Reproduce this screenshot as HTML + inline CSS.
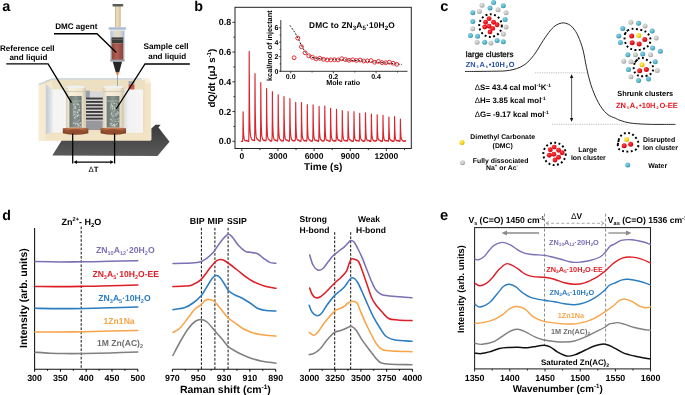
<!DOCTYPE html>
<html><head><meta charset="utf-8"><title>Figure</title>
<style>html,body{margin:0;padding:0;background:#fff;overflow:hidden}svg{display:block;will-change:transform}text{font-family:"Liberation Sans",sans-serif;font-weight:bold;text-rendering:geometricPrecision}</style>
</head><body>
<svg width="685" height="395" viewBox="0 0 685 395">
<rect width="685" height="395" fill="#fff"/>
<defs>
<linearGradient id="shd" x1="0" y1="0" x2="0" y2="1"><stop offset="0" stop-color="#3a3a3a"/><stop offset="1" stop-color="#5a5a5a"/></linearGradient>
<linearGradient id="cop" x1="0" y1="0" x2="0" y2="1"><stop offset="0" stop-color="#cf8a62"/><stop offset="0.35" stop-color="#b9683e"/><stop offset="1" stop-color="#8e4626"/></linearGradient>
<linearGradient id="copx" x1="0" y1="0" x2="1" y2="0"><stop offset="0" stop-color="#000" stop-opacity="0.25"/><stop offset="0.3" stop-color="#000" stop-opacity="0"/><stop offset="0.7" stop-color="#000" stop-opacity="0"/><stop offset="1" stop-color="#000" stop-opacity="0.25"/></linearGradient>
<linearGradient id="cell" x1="0" y1="0" x2="1" y2="0"><stop offset="0" stop-color="#d9cfb8"/><stop offset="0.2" stop-color="#f6efdc"/><stop offset="0.8" stop-color="#efe6d0"/><stop offset="1" stop-color="#cfc3a8"/></linearGradient>
<linearGradient id="glass" x1="0" y1="0" x2="1" y2="0"><stop offset="0" stop-color="#6c7872"/><stop offset="0.5" stop-color="#8a9791"/><stop offset="1" stop-color="#68736e"/></linearGradient>
<linearGradient id="ins" x1="0" y1="0" x2="1" y2="0"><stop offset="0" stop-color="#d9dee5"/><stop offset="0.2" stop-color="#f3f3f3"/><stop offset="1" stop-color="#f7f7f7"/></linearGradient>
<linearGradient id="rod" x1="0" y1="0" x2="1" y2="0"><stop offset="0" stop-color="#cdb88c"/><stop offset="0.4" stop-color="#efe0bc"/><stop offset="1" stop-color="#d2bd92"/></linearGradient>
<linearGradient id="liq" x1="0" y1="0" x2="1" y2="0"><stop offset="0" stop-color="#8c4840"/><stop offset="0.45" stop-color="#b45e52"/><stop offset="1" stop-color="#88443c"/></linearGradient>
<linearGradient id="barrel" x1="0" y1="0" x2="1" y2="0"><stop offset="0" stop-color="#b9c4d0"/><stop offset="0.5" stop-color="#e6ebf0"/><stop offset="1" stop-color="#aeb9c6"/></linearGradient>
<linearGradient id="sidef" x1="0" y1="0" x2="1" y2="0"><stop offset="0" stop-color="#c2cad4"/><stop offset="1" stop-color="#e9ebee"/></linearGradient>
<pattern id="spk" width="3" height="3" patternUnits="userSpaceOnUse"><circle cx="0.8" cy="0.9" r="0.3" fill="#d6d6d6"/><circle cx="2.2" cy="2.3" r="0.25" fill="#dedede"/></pattern>
<pattern id="gspk" width="3" height="3.4" patternUnits="userSpaceOnUse"><circle cx="0.9" cy="1" r="0.6" fill="#c9d1cc"/><circle cx="2.3" cy="2.6" r="0.55" fill="#b9c2bd"/></pattern>
</defs>
<path d="M52.3,155.4 L62,140 L151.4,140 L151.4,128.4 L155.5,124.7 L160.6,124.7 L158.5,127.4 L169.5,141.7 L157.5,156 Z" fill="url(#shd)"/>
<path d="M38.8,84.2 L52.5,78.6 L148.6,78.6 L150.8,83.6 L150.8,140.7 L38.8,140.7 Z" fill="#f2e4c4"/>
<path d="M141.5,78.6 L148.6,78.6 L150.8,83.6 L143.2,83.6 Z" fill="#f8efdc"/>
<rect x="38.8" y="84.2" width="6.8" height="56.5" fill="#f6ebd2"/>
<rect x="45.6" y="80.2" width="99.5" height="53.8" fill="#ecdfc2"/>
<path d="M45.6,84 L52.5,80.2 L52.5,90 L45.6,92 Z" fill="#f3e8d0"/>
<path d="M38.8,84.4 L52.5,78.9 L141.6,78.9" stroke="#c2d4e4" stroke-width="1.2" fill="none"/>
<rect x="45.8" y="131.5" width="99.3" height="2.6" fill="#efe2c5"/>
<path d="M46,84.5 L52.6,89.4 L52.6,132.7 L46,134 Z" fill="url(#sidef)"/>
<rect x="52.6" y="89.4" width="13.2" height="43.3" fill="#f6f6f6"/><rect x="52.6" y="89.4" width="13.2" height="43.3" fill="url(#spk)"/>
<rect x="124.6" y="89.4" width="18.3" height="43.3" fill="url(#ins)"/><rect x="124.6" y="89.4" width="18.3" height="43.3" fill="url(#spk)"/>
<rect x="128.6" y="81.2" width="5.8" height="3.2" fill="#9aa6b4"/><rect x="128.6" y="84.4" width="5.8" height="5" fill="#c8584a"/>
<rect x="85.5" y="91.5" width="17.5" height="37" fill="#d8d8d8"/>
<rect x="86" y="120.6" width="16.6" height="9.4" fill="#97979c"/>
<rect x="85.4" y="90.6" width="4.4" height="7.4" fill="#95a0ad"/>
<g fill="#3a3a3a"><rect x="86" y="97.6" width="16.8" height="1.9"/><rect x="86" y="100.95" width="16.8" height="1.9"/><rect x="86" y="104.3" width="16.8" height="1.9"/><rect x="86" y="107.65" width="16.8" height="1.9"/><rect x="86" y="111" width="16.8" height="1.9"/><rect x="86" y="114.35" width="16.8" height="1.9"/><rect x="86" y="117.7" width="16.8" height="1.9"/></g>
<rect x="66" y="90" width="19.5" height="38" fill="url(#cell)"/>
<rect x="65.6" y="86.8" width="20.3" height="4.6" fill="url(#cell)"/>
<ellipse cx="75.75" cy="86.9" rx="10.15" ry="1.4" fill="#eef1f2"/>
<rect x="65.6" y="91.2" width="20.3" height="0.7" fill="#cbbfa4"/>
<rect x="69.4" y="96" width="12.2" height="31.6" fill="url(#glass)"/>
<rect x="69.4" y="100.6" width="12.2" height="0.9" fill="#aab4ae"/>
<g fill="#dfe3dc" opacity="0.85"><circle cx="75.46" cy="106.54" r="0.58"/><circle cx="73.47" cy="115.59" r="0.48"/><circle cx="73.36" cy="114.92" r="0.36"/><circle cx="76.33" cy="104.64" r="0.38"/><circle cx="76.25" cy="122.43" r="0.39"/><circle cx="74.66" cy="117.74" r="0.68"/><circle cx="77.46" cy="112.32" r="0.69"/><circle cx="73.27" cy="123.17" r="0.45"/><circle cx="74.04" cy="105.77" r="0.46"/><circle cx="79.35" cy="107.25" r="0.55"/><circle cx="77.95" cy="111.75" r="0.54"/><circle cx="73.4" cy="104.4" r="0.42"/><circle cx="78.28" cy="113.05" r="0.46"/><circle cx="77.53" cy="113.65" r="0.45"/><circle cx="79.18" cy="119.43" r="0.44"/><circle cx="77.44" cy="115.34" r="0.66"/><circle cx="78.66" cy="109.77" r="0.69"/><circle cx="73.83" cy="112.83" r="0.61"/><circle cx="74.1" cy="114.49" r="0.36"/><circle cx="78.18" cy="120.97" r="0.55"/><circle cx="79.82" cy="110.37" r="0.59"/><circle cx="77.6" cy="116.63" r="0.51"/><circle cx="79.54" cy="125.2" r="0.52"/><circle cx="78.15" cy="104.43" r="0.6"/><circle cx="78.01" cy="126.34" r="0.64"/><circle cx="75.15" cy="112.07" r="0.58"/><circle cx="73.08" cy="113.85" r="0.41"/><circle cx="73.83" cy="104.39" r="0.62"/><circle cx="73.92" cy="108.82" r="0.49"/><circle cx="79.78" cy="104.89" r="0.51"/><circle cx="77.24" cy="123.76" r="0.64"/><circle cx="79.73" cy="109.54" r="0.5"/><circle cx="75.73" cy="123.78" r="0.69"/><circle cx="74.09" cy="107.14" r="0.43"/><circle cx="74.74" cy="114.4" r="0.56"/><circle cx="74.98" cy="103.1" r="0.5"/><circle cx="75.82" cy="116.31" r="0.68"/><circle cx="78.35" cy="115.11" r="0.57"/><circle cx="78.24" cy="104.27" r="0.66"/><circle cx="79.06" cy="123.55" r="0.63"/><circle cx="76" cy="112.38" r="0.39"/><circle cx="77.91" cy="104.46" r="0.37"/><circle cx="74.55" cy="106.81" r="0.47"/><circle cx="73.32" cy="103.01" r="0.4"/><circle cx="73.7" cy="111.54" r="0.36"/><circle cx="79.81" cy="117.43" r="0.4"/><circle cx="74.89" cy="111.16" r="0.48"/><circle cx="73.87" cy="122.95" r="0.7"/><circle cx="76.58" cy="114.37" r="0.38"/><circle cx="73.71" cy="111.05" r="0.44"/><circle cx="79.45" cy="106.79" r="0.36"/><circle cx="80.41" cy="115.41" r="0.4"/><circle cx="77.19" cy="103.64" r="0.53"/><circle cx="80.63" cy="123.29" r="0.59"/><circle cx="74.96" cy="111.62" r="0.41"/><circle cx="79" cy="115.52" r="0.62"/><circle cx="75.5" cy="108.24" r="0.63"/><circle cx="80.68" cy="123.04" r="0.63"/><circle cx="79.36" cy="120.39" r="0.43"/><circle cx="76.99" cy="111.36" r="0.36"/><circle cx="73.12" cy="109.57" r="0.44"/><circle cx="78.37" cy="125.48" r="0.51"/><circle cx="80.3" cy="126.22" r="0.68"/><circle cx="75.78" cy="108.18" r="0.43"/><circle cx="74.45" cy="107.8" r="0.57"/><circle cx="80.01" cy="122.75" r="0.52"/><circle cx="78.06" cy="121.79" r="0.38"/><circle cx="78.12" cy="124.38" r="0.62"/><circle cx="78.83" cy="114.23" r="0.41"/><circle cx="79.13" cy="110.81" r="0.63"/></g>
<rect x="103" y="90" width="20.6" height="38" fill="url(#cell)"/>
<rect x="102.6" y="86.8" width="21.4" height="4.6" fill="url(#cell)"/>
<ellipse cx="113.3" cy="86.9" rx="10.7" ry="1.4" fill="#eef1f2"/>
<rect x="102.6" y="91.2" width="21.4" height="0.7" fill="#cbbfa4"/>
<rect x="106.6" y="96" width="12.8" height="31.6" fill="url(#glass)"/>
<rect x="106.6" y="100.6" width="12.8" height="0.9" fill="#aab4ae"/>
<g fill="#dfe3dc" opacity="0.85"><circle cx="118.36" cy="112.3" r="0.49"/><circle cx="118.15" cy="120.03" r="0.41"/><circle cx="111.18" cy="106.55" r="0.67"/><circle cx="116.96" cy="106.44" r="0.64"/><circle cx="118.43" cy="118.45" r="0.47"/><circle cx="114.76" cy="106.08" r="0.35"/><circle cx="118.35" cy="118.27" r="0.53"/><circle cx="118.04" cy="113.19" r="0.66"/><circle cx="117.12" cy="107.96" r="0.44"/><circle cx="112.59" cy="108.65" r="0.56"/><circle cx="112.3" cy="112.85" r="0.4"/><circle cx="117.84" cy="111.31" r="0.51"/><circle cx="115.06" cy="124.25" r="0.5"/><circle cx="117.9" cy="114.79" r="0.54"/><circle cx="114.55" cy="103.44" r="0.5"/><circle cx="111.66" cy="103.09" r="0.63"/><circle cx="111.56" cy="114.13" r="0.6"/><circle cx="114.83" cy="110.66" r="0.53"/><circle cx="114.82" cy="121.43" r="0.39"/><circle cx="114.86" cy="108.84" r="0.45"/><circle cx="116.66" cy="114.93" r="0.55"/><circle cx="116.56" cy="124.44" r="0.51"/><circle cx="115.31" cy="114.88" r="0.53"/><circle cx="115.99" cy="113.63" r="0.54"/><circle cx="114.16" cy="125.13" r="0.59"/><circle cx="117.55" cy="125.14" r="0.44"/><circle cx="114.86" cy="125.17" r="0.64"/><circle cx="111.27" cy="105.86" r="0.5"/><circle cx="110.72" cy="108.66" r="0.38"/><circle cx="115.79" cy="121.42" r="0.66"/><circle cx="111.41" cy="119.83" r="0.58"/><circle cx="111.32" cy="123.75" r="0.69"/><circle cx="111.97" cy="125.38" r="0.49"/><circle cx="114.24" cy="126.26" r="0.64"/><circle cx="111.47" cy="113.14" r="0.53"/><circle cx="112.98" cy="107.6" r="0.46"/><circle cx="116.24" cy="103.46" r="0.54"/><circle cx="113.84" cy="103.42" r="0.47"/><circle cx="115.4" cy="115.04" r="0.37"/><circle cx="118.47" cy="121.53" r="0.69"/><circle cx="110.99" cy="109.24" r="0.36"/><circle cx="116.72" cy="109.36" r="0.4"/><circle cx="113.69" cy="124.42" r="0.64"/><circle cx="112.3" cy="106.51" r="0.67"/><circle cx="114.95" cy="119.46" r="0.38"/><circle cx="110.59" cy="119.17" r="0.5"/><circle cx="110.72" cy="125.05" r="0.57"/><circle cx="116.91" cy="104.97" r="0.65"/><circle cx="110.67" cy="123.28" r="0.51"/><circle cx="112.98" cy="116" r="0.67"/><circle cx="112.38" cy="106.04" r="0.53"/><circle cx="112.13" cy="105.57" r="0.41"/><circle cx="110.53" cy="107.74" r="0.46"/><circle cx="112.69" cy="120.85" r="0.45"/><circle cx="114.35" cy="107.18" r="0.47"/><circle cx="110.25" cy="108.89" r="0.36"/><circle cx="116.33" cy="115.95" r="0.42"/><circle cx="114.14" cy="124.96" r="0.39"/><circle cx="117.06" cy="113.16" r="0.52"/><circle cx="117.19" cy="112.24" r="0.53"/><circle cx="115.95" cy="126.09" r="0.47"/><circle cx="117.17" cy="119.61" r="0.57"/><circle cx="113.54" cy="111.17" r="0.37"/><circle cx="111.2" cy="104.66" r="0.61"/><circle cx="112.27" cy="106.84" r="0.38"/><circle cx="117.25" cy="123.46" r="0.58"/><circle cx="112.5" cy="108.69" r="0.45"/><circle cx="114.01" cy="106.7" r="0.51"/><circle cx="112.34" cy="125.6" r="0.69"/><circle cx="114.75" cy="108.74" r="0.69"/></g>
<path d="M62.8,128.2 Q75.55,126.6 88.3,128.2 L88.3,133.2 Q75.55,136.4 62.8,133.2 Z" fill="url(#cop)"/>
<path d="M62.8,128.2 Q75.55,126.6 88.3,128.2 L88.3,133.2 Q75.55,136.4 62.8,133.2 Z" fill="url(#copx)"/>
<ellipse cx="75.55" cy="131.6" rx="8.25" ry="2.6" fill="#8a4a2e" opacity="0.75"/>
<path d="M100.6,128.2 Q113.3,126.6 126.0,128.2 L126.0,133.2 Q113.3,136.4 100.6,133.2 Z" fill="url(#cop)"/>
<path d="M100.6,128.2 Q113.3,126.6 126.0,128.2 L126.0,133.2 Q113.3,136.4 100.6,133.2 Z" fill="url(#copx)"/>
<ellipse cx="113.3" cy="131.6" rx="8.2" ry="2.6" fill="#8a4a2e" opacity="0.75"/>
<rect x="115" y="6.2" width="5.8" height="21" fill="url(#rod)"/>
<rect x="112.5" y="3.9" width="10.8" height="2.6" rx="0.8" fill="#5a5a5a"/>
<rect x="110.3" y="30.5" width="14.2" height="30.5" fill="url(#barrel)"/>
<rect x="115.3" y="30.5" width="5.2" height="7" fill="#e6d6b0" opacity="0.8"/>
<rect x="111.6" y="37.4" width="11.6" height="5.8" fill="#3c3c3c"/>
<rect x="111.6" y="38.9" width="11.6" height="0.9" fill="#6a6a6a"/>
<rect x="111.6" y="43.2" width="11.6" height="16.8" fill="url(#liq)"/>
<rect x="108.6" y="27.2" width="17.5" height="2.6" rx="0.8" fill="#a9bcd4"/>
<rect x="110.3" y="59.6" width="14.2" height="2" fill="#9aa4b0"/>
<path d="M112.8,61.8 L122,61.8 L119.2,72.5 L115.8,72.5 Z" fill="#262626"/>
<path d="M116,72.3 L119,72.3 L118.2,75 L116.8,75 Z" fill="#e07a35"/>
<path d="M117.5,75 V86" stroke="#8a8f96" stroke-width="0.7"/>
<path d="M54,33.7 H97 L116.3,52.5 M6.3,63.8 H48.1 L71.5,102.6 M189.8,64 H145 L116.2,109" stroke="#000" stroke-width="1.35" fill="none"/>
<text x="2.2" y="10.9" font-size="14.5">a</text>
<text x="55.2" y="28.8" font-size="8.1">DMC agent</text>
<text x="0" y="50.5" font-size="8.05">Reference cell</text>
<text x="9.4" y="59.9" font-size="8.05">and liquid</text>
<text x="143.5" y="49.2" font-size="8.2">Sample cell</text>
<text x="148.2" y="58.8" font-size="8.05">and liquid</text>
<path d="M72.7,133.5 V163.5 M114.6,133.5 V163.5" stroke="#000" stroke-width="1.25" fill="none"/>
<path d="M75.5,162.1 H111.8" stroke="#000" stroke-width="1.1" fill="none"/><path d="M73.4,162.1 L77,160.2 L77,164 Z M113.9,162.1 L110.3,160.2 L110.3,164 Z" fill="#000"/>
<text x="93.5" y="172.1" font-size="7.8" text-anchor="middle"><tspan style="font-weight:normal">Δ</tspan>T</text>
<text x="194.2" y="10.9" font-size="14.3">b</text>
<rect x="235.0" y="7.3" width="176.3" height="141.2" fill="none" stroke="#222" stroke-width="1"/>
<path d="M235,141.3h-2.6 M235,126.43h-1.6 M235,111.55h-2.6 M235,96.68h-1.6 M235,81.8h-2.6 M235,66.93h-1.6 M235,52.05h-2.6 M235,37.17h-1.6 M235,22.3h-2.6 M241.8,148.5v2.6 M259.88,148.5v1.6 M277.95,148.5v2.6 M296.03,148.5v1.6 M314.1,148.5v2.6 M332.18,148.5v1.6 M350.25,148.5v2.6 M368.33,148.5v1.6 M386.4,148.5v2.6 M404.48,148.5v1.6" stroke="#222" stroke-width="0.9" fill="none"/>
<text x="231.2" y="144.4" font-size="8.9" text-anchor="end">0.0</text>
<text x="231.2" y="114.65" font-size="8.9" text-anchor="end">0.2</text>
<text x="231.2" y="84.9" font-size="8.9" text-anchor="end">0.4</text>
<text x="231.2" y="55.15" font-size="8.9" text-anchor="end">0.6</text>
<text x="231.2" y="25.4" font-size="8.9" text-anchor="end">0.8</text>
<text x="241.8" y="159" font-size="8.5" text-anchor="middle">0</text>
<text x="277.95" y="159" font-size="8.5" text-anchor="middle">3000</text>
<text x="314.1" y="159" font-size="8.5" text-anchor="middle">6000</text>
<text x="350.25" y="159" font-size="8.5" text-anchor="middle">9000</text>
<text x="386.4" y="159" font-size="8.5" text-anchor="middle">12000</text>
<text x="323.2" y="170" font-size="10.0" text-anchor="middle">Time (s)</text>
<text transform="translate(214.8,78.2) rotate(-90)" font-size="9.6" text-anchor="middle">dQ/dt (μJ s<tspan font-size="5.95" baseline-shift="3.84">-1</tspan>)</text>
<path d="M241.3,141.41 L241.4,141.55 L241.5,141.45 L241.6,141.54 L241.7,141.52 L241.8,141.2 L241.9,141.13 L242,141.51 L242.1,141.17 L242.2,141.12 L242.3,141.46 L242.4,141.16 L242.5,141.31 L242.6,141.1 L242.7,140.11 L242.8,138.49 L242.9,135.59 L243,128.5 L243.1,111.76 L243.2,119.12 L243.3,124.43 L243.4,128.08 L243.5,131.36 L243.6,133.46 L243.7,134.96 L243.8,136.06 L243.9,137.42 L244,137.95 L244.1,138.64 L244.2,139.16 L244.3,139.43 L244.4,139.81 L244.5,139.77 L244.6,140.16 L244.7,140.13 L244.8,140.5 L244.9,140.57 L245,140.25 L245.1,140.33 L245.2,140.42 L245.3,140.83 L245.4,140.58 L245.5,140.69 L245.6,140.54 L245.7,140.64 L245.8,140.58 L245.9,140.55 L246,140.66 L246.1,140.66 L246.2,140.81 L246.3,140.7 L246.4,140.83 L246.5,140.8 L246.6,140.88 L246.7,140.74 L246.8,140.51 L246.9,140.89 L247,140.98 L247.1,140.99 L247.2,140.87 L247.3,140.99 L247.4,140.79 L247.5,141.16 L247.6,141.08 L247.7,140.99 L247.8,140.94 L247.9,141.38 L248,141.5 L248.1,141.09 L248.2,141.48 L248.3,141.32 L248.4,141.21 L248.5,141.3 L248.6,141.55 L248.7,141.6 L248.8,137.97 L248.9,134.06 L249,124.15 L249.1,102.34 L249.2,51.23 L249.3,73.7 L249.4,90.08 L249.5,101.87 L249.6,111.01 L249.7,117.24 L249.8,122.02 L249.9,125.93 L250,128.39 L250.1,130.55 L250.2,132.24 L250.3,133.57 L250.4,134.3 L250.5,135.01 L250.6,136.05 L250.7,136.29 L250.8,137.05 L250.9,137.39 L251,137.47 L251.1,137.81 L251.2,138.1 L251.3,138.41 L251.4,138.61 L251.5,138.81 L251.6,139.03 L251.7,139.37 L251.8,139.31 L251.9,139.42 L252,139.7 L252.1,139.58 L252.2,139.72 L252.3,140.16 L252.4,140.01 L252.5,140.09 L252.6,139.89 L252.7,140.14 L252.8,140.26 L252.9,140.01 L253,140.33 L253.1,140.36 L253.2,140.08 L253.3,140.38 L253.4,140.31 L253.5,140.42 L253.6,140.27 L253.7,140.46 L253.8,140.49 L253.9,140.16 L254,140.2 L254.1,140.54 L254.2,140.72 L254.3,140.4 L254.4,140.55 L254.5,140.67 L254.6,138.19 L254.7,135.15 L254.8,128 L254.9,111.55 L255,73.68 L255.1,90.21 L255.2,102.54 L255.3,111.83 L255.4,118.18 L255.5,123.45 L255.6,127.25 L255.7,129.83 L255.8,131.88 L255.9,133.76 L256,134.69 L256.1,135.59 L256.2,136.43 L256.3,137.12 L256.4,137.26 L256.5,137.72 L256.6,138 L256.7,138.48 L256.8,138.47 L256.9,138.84 L257,138.63 L257.1,138.83 L257.2,139.09 L257.3,139.3 L257.4,139.18 L257.5,139.15 L257.6,139.18 L257.7,139.47 L257.8,139.39 L257.9,139.78 L258,139.89 L258.1,139.65 L258.2,139.79 L258.3,140.15 L258.4,140.17 L258.5,140.35 L258.6,140.21 L258.7,140.2 L258.8,140.37 L258.9,140.71 L259,140.53 L259.1,140.65 L259.2,140.75 L259.3,140.82 L259.4,140.87 L259.5,141.17 L259.6,140.83 L259.7,140.78 L259.8,141.27 L259.9,141.25 L260,141.31 L260.1,141.03 L260.2,141.28 L260.3,140.34 L260.4,138.79 L260.5,136.32 L260.6,130.11 L260.7,115.65 L260.8,82.53 L260.9,96.81 L261,107.44 L261.1,115.2 L261.2,120.9 L261.3,125.45 L261.4,128.5 L261.5,131.16 L261.6,132.59 L261.7,134.4 L261.8,135.36 L261.9,136.31 L262,136.96 L262.1,137.49 L262.2,137.77 L262.3,137.86 L262.4,138.54 L262.5,138.53 L262.6,138.84 L262.7,139.23 L262.8,139.35 L262.9,139.46 L263,139.87 L263.1,139.84 L263.2,139.82 L263.3,139.88 L263.4,140.27 L263.5,140.15 L263.6,140.37 L263.7,140.2 L263.8,140.16 L263.9,140.36 L264,140.53 L264.1,140.22 L264.2,140.55 L264.3,140.62 L264.4,140.57 L264.5,140.58 L264.6,140.18 L264.7,140.49 L264.8,140.62 L264.9,140.23 L265,140.35 L265.1,140.38 L265.2,140.53 L265.3,140.51 L265.4,140.58 L265.5,140.77 L265.6,140.43 L265.7,140.51 L265.8,140.61 L265.9,140.66 L266,140.7 L266.1,140.39 L266.2,139.33 L266.3,136.57 L266.4,131.21 L266.5,118.24 L266.6,88.55 L266.7,101.59 L266.8,111.34 L266.9,118.39 L267,123.51 L267.1,127.3 L267.2,130.25 L267.3,132.29 L267.4,134.12 L267.5,135.4 L267.6,136.15 L267.7,136.69 L267.8,137.27 L267.9,137.77 L268,138.21 L268.1,138.55 L268.2,138.56 L268.3,138.94 L268.4,139 L268.5,139.03 L268.6,139.11 L268.7,139.28 L268.8,139.48 L268.9,139.44 L269,139.67 L269.1,139.66 L269.2,139.65 L269.3,139.89 L269.4,140.07 L269.5,139.86 L269.6,140.13 L269.7,140.23 L269.8,140.55 L269.9,140.68 L270,140.48 L270.1,140.83 L270.2,140.85 L270.3,140.66 L270.4,140.83 L270.5,140.71 L270.6,141.1 L270.7,141.07 L270.8,141.21 L270.9,141.18 L271,141.13 L271.1,141.17 L271.2,141.08 L271.3,140.84 L271.4,141.07 L271.5,140.76 L271.6,140.8 L271.7,141.09 L271.8,140.71 L271.9,139.94 L272,138.92 L272.1,137 L272.2,131.35 L272.3,119.09 L272.4,91.51 L272.5,103.38 L272.6,112.75 L272.7,119.32 L272.8,124.33 L272.9,128.06 L273,130.61 L273.1,132.79 L273.2,133.97 L273.3,135.54 L273.4,136.34 L273.5,137.17 L273.6,137.44 L273.7,138.23 L273.8,138.7 L273.9,138.58 L274,138.97 L274.1,139.31 L274.2,139.63 L274.3,139.5 L274.4,139.6 L274.5,139.75 L274.6,140.03 L274.7,140.18 L274.8,140.06 L274.9,140.1 L275,140.16 L275.1,140.17 L275.2,140.22 L275.3,140.08 L275.4,140.3 L275.5,140.55 L275.6,140.28 L275.7,140.46 L275.8,140.17 L275.9,140.45 L276,140.5 L276.1,140.49 L276.2,140.43 L276.3,140.45 L276.4,140.57 L276.5,140.74 L276.6,140.41 L276.7,140.44 L276.8,140.82 L276.9,140.96 L277,140.82 L277.1,140.85 L277.2,141.05 L277.3,140.85 L277.4,140.95 L277.5,140.97 L277.6,141.21 L277.7,140.4 L277.8,139.46 L277.9,137.57 L278,132.76 L278.1,121.02 L278.2,94.94 L278.3,106.28 L278.4,114.95 L278.5,121.04 L278.6,125.48 L278.7,128.85 L278.8,131.27 L278.9,133.36 L279,134.71 L279.1,135.66 L279.2,136.54 L279.3,137.13 L279.4,137.82 L279.5,137.87 L279.6,138.59 L279.7,138.57 L279.8,138.83 L279.9,138.94 L280,139.28 L280.1,139.42 L280.2,139.42 L280.3,139.51 L280.4,139.75 L280.5,139.94 L280.6,139.83 L280.7,140.11 L280.8,140.33 L280.9,140.19 L281,140.18 L281.1,140.28 L281.2,140.61 L281.3,140.68 L281.4,140.9 L281.5,140.91 L281.6,140.67 L281.7,140.69 L281.8,140.77 L281.9,140.77 L282,141.05 L282.1,141.14 L282.2,141.17 L282.3,140.85 L282.4,141.15 L282.5,140.86 L282.6,140.9 L282.7,141.03 L282.8,140.69 L282.9,140.67 L283,141.02 L283.1,140.73 L283.2,140.75 L283.3,140.85 L283.4,140.89 L283.5,139.87 L283.6,139.15 L283.7,137.15 L283.8,132.47 L283.9,121.47 L284,96.64 L284.1,107.8 L284.2,115.61 L284.3,121.68 L284.4,125.9 L284.5,129.29 L284.6,131.96 L284.7,133.54 L284.8,135.34 L284.9,136.43 L285,136.85 L285.1,137.92 L285.2,138.14 L285.3,138.74 L285.4,139.05 L285.5,139.07 L285.6,139.47 L285.7,139.62 L285.8,139.83 L285.9,139.67 L286,140 L286.1,140.17 L286.2,140.08 L286.3,140.06 L286.4,139.88 L286.5,140.1 L286.6,140.06 L286.7,140.26 L286.8,140.26 L286.9,140.23 L287,140.06 L287.1,140.32 L287.2,140.34 L287.3,140.15 L287.4,140.55 L287.5,140.47 L287.6,140.26 L287.7,140.71 L287.8,140.38 L287.9,140.53 L288,140.79 L288.1,140.8 L288.2,140.84 L288.3,140.95 L288.4,140.93 L288.5,140.92 L288.6,140.91 L288.7,140.91 L288.8,141.28 L288.9,141.34 L289,141.27 L289.1,141.39 L289.2,141.22 L289.3,141.19 L289.4,140.59 L289.5,139.97 L289.6,137.56 L289.7,133.21 L289.8,122.57 L289.9,98.66 L290,108.96 L290.1,116.68 L290.2,122.41 L290.3,126.68 L290.4,129.91 L290.5,132 L290.6,133.97 L290.7,134.9 L290.8,135.96 L290.9,136.62 L291,137.21 L291.1,138 L291.2,138.35 L291.3,138.39 L291.4,138.65 L291.5,138.99 L291.6,139.35 L291.7,139.57 L291.8,139.7 L291.9,139.77 L292,139.69 L292.1,139.95 L292.2,139.97 L292.3,140.25 L292.4,140.37 L292.5,140.28 L292.6,140.39 L292.7,140.73 L292.8,140.42 L292.9,140.86 L293,140.95 L293.1,141.01 L293.2,140.75 L293.3,140.85 L293.4,140.87 L293.5,140.9 L293.6,141.06 L293.7,140.91 L293.8,140.7 L293.9,140.97 L294,140.77 L294.1,140.81 L294.2,140.86 L294.3,140.49 L294.4,140.86 L294.5,140.81 L294.6,140.73 L294.7,140.75 L294.8,140.74 L294.9,140.63 L295,140.82 L295.1,140.61 L295.2,140.28 L295.3,139.61 L295.4,137.76 L295.5,133.71 L295.6,124.4 L295.7,102.43 L295.8,111.71 L295.9,119.16 L296,124.34 L296.1,127.95 L296.2,131 L296.3,133.1 L296.4,134.64 L296.5,136.08 L296.6,137.2 L296.7,137.59 L296.8,138.39 L296.9,138.7 L297,138.73 L297.1,139.34 L297.2,139.39 L297.3,139.7 L297.4,139.71 L297.5,139.81 L297.6,139.68 L297.7,139.97 L297.8,140.09 L297.9,140.1 L298,139.93 L298.1,140.13 L298.2,140.04 L298.3,139.89 L298.4,139.91 L298.5,139.98 L298.6,140.09 L298.7,140.13 L298.8,140.36 L298.9,140.53 L299,140.52 L299.1,140.53 L299.2,140.72 L299.3,140.62 L299.4,140.77 L299.5,140.99 L299.6,140.88 L299.7,140.83 L299.8,141.25 L299.9,141.21 L300,141.08 L300.1,141.12 L300.2,141.23 L300.3,141.28 L300.4,141.11 L300.5,141 L300.6,141.11 L300.7,141.38 L300.8,141.05 L300.9,141.18 L301,140.43 L301.1,139.64 L301.2,137.82 L301.3,133.82 L301.4,124.29 L301.5,102.59 L301.6,112.04 L301.7,118.99 L301.8,124.25 L301.9,127.81 L302,130.6 L302.1,132.9 L302.2,134.45 L302.3,135.78 L302.4,136.37 L302.5,137.25 L302.6,137.8 L302.7,138.06 L302.8,138.9 L302.9,138.83 L303,139.02 L303.1,139.43 L303.2,139.47 L303.3,139.87 L303.4,139.88 L303.5,139.9 L303.6,139.98 L303.7,140.42 L303.8,140.29 L303.9,140.62 L304,140.53 L304.1,140.81 L304.2,140.54 L304.3,140.55 L304.4,140.58 L304.5,140.87 L304.6,140.78 L304.7,140.64 L304.8,140.51 L304.9,140.8 L305,140.93 L305.1,140.73 L305.2,140.43 L305.3,140.43 L305.4,140.46 L305.5,140.49 L305.6,140.43 L305.7,140.45 L305.8,140.76 L305.9,140.91 L306,140.58 L306.1,141 L306.2,140.79 L306.3,141 L306.4,141.1 L306.5,141.16 L306.6,140.76 L306.7,140.95 L306.8,140.59 L306.9,140.08 L307,138 L307.1,134.24 L307.2,125.57 L307.3,104.55 L307.4,113.75 L307.5,120.41 L307.6,125.51 L307.7,129.27 L307.8,131.59 L307.9,133.87 L308,135.35 L308.1,136.51 L308.2,137.19 L308.3,138 L308.4,138.19 L308.5,138.57 L308.6,138.75 L308.7,139.23 L308.8,139.25 L308.9,139.28 L309,139.34 L309.1,139.7 L309.2,139.73 L309.3,139.86 L309.4,139.76 L309.5,139.89 L309.6,139.79 L309.7,140.14 L309.8,139.87 L309.9,140.17 L310,140.39 L310.1,140.43 L310.2,140.22 L310.3,140.38 L310.4,140.76 L310.5,140.74 L310.6,140.94 L310.7,141.01 L310.8,140.86 L310.9,141.15 L311,141.12 L311.1,140.97 L311.2,141.03 L311.3,140.92 L311.4,141.11 L311.5,141.4 L311.6,140.99 L311.7,141.22 L311.8,140.98 L311.9,140.95 L312,141.22 L312.1,140.99 L312.2,140.87 L312.3,140.89 L312.4,141.11 L312.5,141.05 L312.6,140.18 L312.7,139.53 L312.8,138.21 L312.9,133.96 L313,125.25 L313.1,104.76 L313.2,113.86 L313.3,120.35 L313.4,125.3 L313.5,128.77 L313.6,131.28 L313.7,133.28 L313.8,134.75 L313.9,136.28 L314,136.81 L314.1,137.45 L314.2,138.46 L314.3,138.51 L314.4,139.21 L314.5,139.09 L314.6,139.52 L314.7,139.59 L314.8,140.06 L314.9,140.09 L315,140.22 L315.1,140.38 L315.2,140.51 L315.3,140.31 L315.4,140.49 L315.5,140.45 L315.6,140.31 L315.7,140.7 L315.8,140.59 L315.9,140.7 L316,140.4 L316.1,140.57 L316.2,140.53 L316.3,140.66 L316.4,140.33 L316.5,140.47 L316.6,140.54 L316.7,140.35 L316.8,140.6 L316.9,140.71 L317,140.58 L317.1,140.73 L317.2,140.74 L317.3,140.59 L317.4,140.71 L317.5,141.08 L317.6,140.8 L317.7,140.91 L317.8,140.79 L317.9,140.92 L318,140.95 L318.1,141.38 L318.2,141.33 L318.3,141.45 L318.4,141.55 L318.5,141.39 L318.6,141.03 L318.7,140.14 L318.8,138.46 L318.9,134.97 L319,126.29 L319.1,106.4 L319.2,114.85 L319.3,121.37 L319.4,125.88 L319.5,129.63 L319.6,132.15 L319.7,133.72 L319.8,135.44 L319.9,136.12 L320,136.86 L320.1,137.77 L320.2,138.01 L320.3,138.48 L320.4,138.82 L320.5,138.75 L320.6,139.29 L320.7,139.22 L320.8,139.45 L320.9,139.54 L321,139.86 L321.1,139.99 L321.2,139.87 L321.3,139.89 L321.4,140.09 L321.5,140.25 L321.6,140.19 L321.7,140.32 L321.8,140.71 L321.9,140.76 L322,140.98 L322.1,141.05 L322.2,141.06 L322.3,140.86 L322.4,140.79 L322.5,140.9 L322.6,141 L322.7,141.05 L322.8,141.07 L322.9,140.97 L323,141.21 L323.1,140.92 L323.2,140.99 L323.3,141.18 L323.4,141.12 L323.5,140.84 L323.6,140.79 L323.7,141.05 L323.8,140.63 L323.9,140.67 L324,140.86 L324.1,140.86 L324.2,140.67 L324.3,140.08 L324.4,139.46 L324.5,138.13 L324.6,134.26 L324.7,125.92 L324.8,106.02 L324.9,114.82 L325,120.78 L325.1,125.61 L325.2,129.05 L325.3,131.89 L325.4,133.81 L325.5,135.15 L325.6,136.52 L325.7,137.15 L325.8,137.92 L325.9,138.39 L326,139.07 L326.1,139.18 L326.2,139.35 L326.3,139.43 L326.4,139.78 L326.5,140 L326.6,140.11 L326.7,140.3 L326.8,140.31 L326.9,140.07 L327,140.05 L327.1,140.38 L327.2,140.42 L327.3,140.29 L327.4,140.47 L327.5,140.34 L327.6,140.22 L327.7,140.19 L327.8,140.13 L327.9,140.47 L328,140.63 L328.1,140.67 L328.2,140.49 L328.3,140.64 L328.4,140.82 L328.5,140.82 L328.6,140.77 L328.7,140.74 L328.8,140.85 L328.9,140.74 L329,140.81 L329.1,141.12 L329.2,141.33 L329.3,141.17 L329.4,141.14 L329.5,141.16 L329.6,141.25 L329.7,141.45 L329.8,141.3 L329.9,141.56 L330,141.17 L330.1,140.73 L330.2,140.16 L330.3,138.54 L330.4,135.2 L330.5,127 L330.6,108.25 L330.7,116.26 L330.8,121.97 L330.9,126.66 L331,129.9 L331.1,132.28 L331.2,133.96 L331.3,135.51 L331.4,136.62 L331.5,136.97 L331.6,137.84 L331.7,138.14 L331.8,138.58 L331.9,139.06 L332,139.34 L332.1,139.39 L332.2,139.35 L332.3,139.88 L332.4,139.66 L332.5,139.9 L332.6,140.25 L332.7,140.11 L332.8,140.2 L332.9,140.64 L333,140.74 L333.1,140.51 L333.2,140.62 L333.3,140.64 L333.4,140.62 L333.5,140.73 L333.6,141.13 L333.7,140.71 L333.8,140.81 L333.9,140.8 L334,140.75 L334.1,140.97 L334.2,141.07 L334.3,141.1 L334.4,140.98 L334.5,141.06 L334.6,140.63 L334.7,140.75 L334.8,141.07 L334.9,140.61 L335,140.69 L335.1,140.79 L335.2,140.68 L335.3,140.82 L335.4,140.58 L335.5,140.69 L335.6,141.08 L335.7,140.7 L335.8,141.11 L335.9,140.79 L336,140.74 L336.1,139.98 L336.2,138.53 L336.3,134.9 L336.4,127.02 L336.5,109.27 L336.6,116.95 L336.7,122.84 L336.8,127.5 L336.9,130.74 L337,132.71 L337.1,134.95 L337.2,136.06 L337.3,136.98 L337.4,137.59 L337.5,138.29 L337.6,139.01 L337.7,138.98 L337.8,139.15 L337.9,139.34 L338,139.47 L338.1,139.69 L338.2,140.06 L338.3,139.71 L338.4,139.82 L338.5,140.24 L338.6,140.3 L338.7,140.33 L338.8,140 L338.9,140.1 L339,140.43 L339.1,140.25 L339.2,140.4 L339.3,140.26 L339.4,140.17 L339.5,140.39 L339.6,140.66 L339.7,140.74 L339.8,140.7 L339.9,140.72 L340,140.83 L340.1,140.85 L340.2,140.96 L340.3,141.17 L340.4,140.91 L340.5,141.16 L340.6,141.38 L340.7,141.38 L340.8,141.07 L340.9,141.49 L341,141.45 L341.1,141.12 L341.2,141.17 L341.3,141.13 L341.4,141.04 L341.5,141.48 L341.6,141.17 L341.7,141.38 L341.8,140.49 L341.9,139.79 L342,138.77 L342.1,135.45 L342.2,128.02 L342.3,110.6 L342.4,118.03 L342.5,123.67 L342.6,127.42 L342.7,130.66 L342.8,132.86 L342.9,134.39 L343,135.88 L343.1,136.7 L343.2,137.53 L343.3,138.04 L343.4,138.47 L343.5,138.86 L343.6,139.28 L343.7,139.72 L343.8,139.91 L343.9,140.06 L344,140.21 L344.1,140.07 L344.2,140.54 L344.3,140.29 L344.4,140.31 L344.5,140.58 L344.6,140.76 L344.7,140.62 L344.8,140.81 L344.9,140.66 L345,141.02 L345.1,140.78 L345.2,140.8 L345.3,140.82 L345.4,140.99 L345.5,141.04 L345.6,140.79 L345.7,140.74 L345.8,140.81 L345.9,140.52 L346,140.69 L346.1,140.89 L346.2,140.86 L346.3,140.5 L346.4,140.9 L346.5,140.68 L346.6,141 L346.7,140.72 L346.8,140.68 L346.9,140.88 L347,141.09 L347.1,140.91 L347.2,141.18 L347.3,141.16 L347.4,141.03 L347.5,141.06 L347.6,140.75 L347.7,140.14 L347.8,138.78 L347.9,135.77 L348,128.57 L348.1,111.54 L348.2,118.73 L348.3,124.22 L348.4,128.31 L348.5,131.39 L348.6,133.35 L348.7,134.94 L348.8,136.26 L348.9,137.13 L349,137.67 L349.1,138.42 L349.2,138.98 L349.3,139.07 L349.4,139.39 L349.5,139.6 L349.6,139.73 L349.7,139.88 L349.8,139.73 L349.9,139.93 L350,139.72 L350.1,140.17 L350.2,139.98 L350.3,140.1 L350.4,140.37 L350.5,140.14 L350.6,140.16 L350.7,140.56 L350.8,140.52 L350.9,140.34 L351,140.39 L351.1,140.63 L351.2,140.53 L351.3,141.01 L351.4,140.76 L351.5,140.87 L351.6,140.98 L351.7,141.09 L351.8,141.1 L351.9,141.23 L352,141.27 L352.1,141.18 L352.2,141.02 L352.3,141.46 L352.4,141.32 L352.5,141 L352.6,141.16 L352.7,141.29 L352.8,141.39 L352.9,140.89 L353,140.84 L353.1,141.04 L353.2,140.98 L353.3,141.19 L353.4,141.13 L353.5,140.41 L353.6,139.85 L353.7,138.57 L353.8,135.6 L353.9,128.09 L354,111.68 L354.1,118.76 L354.2,124.37 L354.3,128.01 L354.4,131.39 L354.5,133.37 L354.6,135.04 L354.7,136.04 L354.8,137.05 L354.9,137.9 L355,138.66 L355.1,138.94 L355.2,139.17 L355.3,139.8 L355.4,139.86 L355.5,139.98 L355.6,139.97 L355.7,140.14 L355.8,140.54 L355.9,140.23 L356,140.49 L356.1,140.58 L356.2,140.48 L356.3,140.71 L356.4,140.8 L356.5,140.78 L356.6,140.72 L356.7,140.45 L356.8,140.38 L356.9,140.56 L357,140.49 L357.1,140.43 L357.2,140.77 L357.3,140.45 L357.4,140.76 L357.5,140.84 L357.6,140.45 L357.7,140.87 L357.8,140.65 L357.9,140.59 L358,140.62 L358.1,140.6 L358.2,140.88 L358.3,140.88 L358.4,141.17 L358.5,141.21 L358.6,140.88 L358.7,141.11 L358.8,141.15 L358.9,141.09 L359,141.17 L359.1,141.21 L359.2,141.02 L359.3,140.3 L359.4,138.9 L359.5,135.96 L359.6,129.16 L359.7,113.33 L359.8,120.09 L359.9,125.41 L360,128.91 L360.1,131.89 L360.2,133.89 L360.3,135.18 L360.4,136.58 L360.5,137.23 L360.6,137.92 L360.7,138.42 L360.8,138.79 L360.9,138.97 L361,138.99 L361.1,139.54 L361.2,139.72 L361.3,139.67 L361.4,139.83 L361.5,139.78 L361.6,140.2 L361.7,140.19 L361.8,140.05 L361.9,140.44 L362,140.62 L362.1,140.39 L362.2,140.8 L362.3,140.63 L362.4,140.56 L362.5,140.9 L362.6,140.78 L362.7,141.04 L362.8,141.03 L362.9,140.84 L363,141.09 L363.1,141.28 L363.2,141.12 L363.3,141.16 L363.4,141.33 L363.5,141.12 L363.6,141.13 L363.7,141.16 L363.8,141.27 L363.9,140.93 L364,140.85 L364.1,141.16 L364.2,141.02 L364.3,140.87 L364.4,141.14 L364.5,141.12 L364.6,140.93 L364.7,141.14 L364.8,141.06 L364.9,141.01 L365,140.35 L365.1,139.65 L365.2,138.7 L365.3,135.73 L365.4,128.61 L365.5,112.71 L365.6,119.79 L365.7,124.82 L365.8,128.89 L365.9,131.67 L366,133.71 L366.1,135.17 L366.2,136.59 L366.3,137.39 L366.4,138.28 L366.5,138.54 L366.6,139.06 L366.7,139.28 L366.8,139.63 L366.9,139.91 L367,139.83 L367.1,139.92 L367.2,140.22 L367.3,140.15 L367.4,140.35 L367.5,140.22 L367.6,140.21 L367.7,140.45 L367.8,140.65 L367.9,140.63 L368,140.46 L368.1,140.41 L368.2,140.25 L368.3,140.36 L368.4,140.39 L368.5,140.72 L368.6,140.33 L368.7,140.77 L368.8,140.57 L368.9,140.59 L369,140.55 L369.1,140.94 L369.2,140.61 L369.3,140.86 L369.4,140.88 L369.5,140.79 L369.6,140.86 L369.7,141.3 L369.8,141.26 L369.9,141.28 L370,141.42 L370.1,141.06 L370.2,141.4 L370.3,141.45 L370.4,141.21 L370.5,141.35 L370.6,141.61 L370.7,141.29 L370.8,141.5 L370.9,140.76 L371,140.45 L371.1,138.96 L371.2,136.14 L371.3,129.36 L371.4,114.19 L371.5,120.81 L371.6,125.6 L371.7,129.31 L371.8,131.84 L371.9,134 L372,135.19 L372.1,136.43 L372.2,137.28 L372.3,137.81 L372.4,138.12 L372.5,138.57 L372.6,139.11 L372.7,139.15 L372.8,139.63 L372.9,139.69 L373,140.08 L373.1,140.17 L373.2,140.24 L373.3,140.19 L373.4,140.14 L373.5,140.5 L373.6,140.69 L373.7,140.86 L373.8,140.58 L373.9,140.63 L374,141.1 L374.1,141.03 L374.2,140.94 L374.3,141.1 L374.4,140.83 L374.5,141.04 L374.6,141.1 L374.7,141.07 L374.8,140.84 L374.9,140.81 L375,141.04 L375.1,141.15 L375.2,140.75 L375.3,140.66 L375.4,140.68 L375.5,141.01 L375.6,140.8 L375.7,140.82 L375.8,141.08 L375.9,140.88 L376,140.71 L376.1,140.94 L376.2,140.61 L376.3,140.77 L376.4,141.01 L376.5,140.78 L376.6,140.75 L376.7,140.63 L376.8,140.05 L376.9,139.2 L377,135.99 L377.1,129.9 L377.2,114.82 L377.3,121.59 L377.4,126.25 L377.5,129.94 L377.6,132.42 L377.7,134.33 L377.8,135.91 L377.9,137.17 L378,137.75 L378.1,138.31 L378.2,138.86 L378.3,139.04 L378.4,139.41 L378.5,139.73 L378.6,139.86 L378.7,139.99 L378.8,139.92 L378.9,139.85 L379,139.9 L379.1,140.09 L379.2,140.05 L379.3,140.27 L379.4,140.14 L379.5,140.42 L379.6,140.37 L379.7,140.44 L379.8,140.51 L379.9,140.45 L380,140.45 L380.1,140.44 L380.2,140.38 L380.3,140.8 L380.4,140.72 L380.5,140.58 L380.6,141.06 L380.7,140.95 L380.8,141.04 L380.9,141.01 L381,140.91 L381.1,141.4 L381.2,141.03 L381.3,141.17 L381.4,141.52 L381.5,141.1 L381.6,141.31 L381.7,141.31 L381.8,141.2 L381.9,141.53 L382,141.26 L382.1,141.04 L382.2,141.25 L382.3,140.99 L382.4,141.31 L382.5,140.96 L382.6,140.43 L382.7,138.77 L382.8,136.32 L382.9,129.82 L383,115.4 L383.1,121.61 L383.2,126.25 L383.3,129.59 L383.4,132.38 L383.5,133.99 L383.6,135.84 L383.7,136.45 L383.8,137.72 L383.9,137.96 L384,138.4 L384.1,139.12 L384.2,139.33 L384.3,139.71 L384.4,139.79 L384.5,140.04 L384.6,139.93 L384.7,140.36 L384.8,140.4 L384.9,140.73 L385,140.35 L385.1,140.45 L385.2,140.82 L385.3,141 L385.4,140.79 L385.5,140.97 L385.6,140.91 L385.7,140.84 L385.8,140.88 L385.9,140.95 L386,140.65 L386.1,140.78 L386.2,140.98 L386.3,140.72 L386.4,140.81 L386.5,140.69 L386.6,140.72 L386.7,140.85 L386.8,140.89 L386.9,141 L387,140.76 L387.1,140.63 L387.2,140.71 L387.3,140.59 L387.4,140.71 L387.5,140.91 L387.6,140.97 L387.7,140.82 L387.8,140.84 L387.9,140.85 L388,140.94 L388.1,141.15 L388.2,141.08 L388.3,141.44 L388.4,140.95 L388.5,140.38 L388.6,139.33 L388.7,136.55 L388.8,130.9 L388.9,117.07 L389,122.94 L389.1,127.57 L389.2,130.63 L389.3,133.02 L389.4,134.81 L389.5,136.11 L389.6,137.28 L389.7,138.02 L389.8,138.6 L389.9,138.68 L390,139.31 L390.1,139.39 L390.2,139.51 L390.3,139.7 L390.4,139.77 L390.5,139.75 L390.6,139.92 L390.7,140.11 L390.8,140.21 L390.9,140.38 L391,140.08 L391.1,140.49 L391.2,140.52 L391.3,140.54 L391.4,140.75 L391.5,140.4 L391.6,140.79 L391.7,140.93 L391.8,140.61 L391.9,140.92 L392,141.16 L392.1,140.9 L392.2,141.23 L392.3,141.31 L392.4,141.12 L392.5,141.01 L392.6,141.08 L392.7,141.41 L392.8,141.22 L392.9,141.17 L393,141.23 L393.1,141.46 L393.2,141.11 L393.3,140.97 L393.4,141.41 L393.5,141.06 L393.6,141.07 L393.7,141.33 L393.8,140.95 L393.9,140.82 L394,141.19 L394.1,140.47 L394.2,139.95 L394.3,139.16 L394.4,136.19 L394.5,130.53 L394.6,116.46 L394.7,122.48 L394.8,126.9 L394.9,130.36 L395,132.82 L395.1,134.57 L395.2,136 L395.3,136.94 L395.4,138 L395.5,138.67 L395.6,139.05 L395.7,139.47 L395.8,139.39 L395.9,139.73 L396,139.9 L396.1,140.04 L396.2,140.58 L396.3,140.65 L396.4,140.74 L396.5,140.63 L396.6,140.46 L396.7,140.66 L396.8,140.5 L396.9,140.94 L397,140.63 L397.1,140.64 L397.2,140.97 L397.3,140.59 L397.4,140.94 L397.5,140.62 L397.6,140.78 L397.7,140.5 L397.8,140.89 L397.9,140.63 L398,140.61 L398.1,140.77 L398.2,140.75 L398.3,140.6 L398.4,140.56 L398.5,140.82 L398.6,140.58 L398.7,141.05 L398.8,140.83 L398.9,140.79 L399,140.92 L399.1,140.87 L399.2,141.02 L399.3,141.19 L399.4,141.17 L399.5,141.18 L399.6,141.2 L399.7,141.34 L399.8,141.52 L399.9,141.02 L400,140.75 L400.1,139.57 L400.2,136.99 L400.3,131.48 L400.4,119.09 L400.5,124.44 L400.6,128.46 L400.7,131.51 L400.8,133.88 L400.9,135.26 L401,136.45 L401.1,137.33 L401.2,137.81 L401.3,138.56 L401.4,138.9 L401.5,139.19 L401.6,139.38 L401.7,139.57 L401.8,139.83 L401.9,139.69 L402,140.19 L402.1,139.85 L402.2,140.32 L402.3,140.06 L402.4,140.46 L402.5,140.27 L402.6,140.27 L402.7,140.58 L402.8,140.81 L402.9,140.89 L403,140.99 L403.1,141.11 L403.2,140.71 L403.3,140.94 L403.4,140.86 L403.5,141.23 L403.6,141.11 L403.7,141.29 L403.8,141.34 L403.9,141.46 L404,141.3 L404.1,141.4 L404.2,141.23 L404.3,140.98 L404.4,141.37 L404.5,140.94 L404.6,140.91 L404.7,141.25 L404.8,140.95 L404.9,141.11 L405,140.76 L405.1,140.83 L405.2,141.06 L405.3,140.7 L405.4,140.93 L405.5,141.14 L405.6,140.78 L405.7,141.03" fill="none" stroke="#d9262e" stroke-width="1.15" stroke-linejoin="round"/>
<path d="M280.8,20.1 V71.3 M280,71.3 H407.5" stroke="#222" stroke-width="0.9" fill="none"/>
<path d="M280.8,71.1h-2.0 M280.8,63.87h-1.2 M280.8,56.64h-2.0 M280.8,49.41h-1.2 M280.8,42.18h-2.0 M280.8,34.95h-1.2 M280.8,27.72h-2.0 M290.7,71.3v2.0 M312.05,71.3v1.2 M333.4,71.3v2.0 M354.75,71.3v1.2 M376.1,71.3v2.0 M397.45,71.3v1.2" stroke="#222" stroke-width="0.8" fill="none"/>
<text x="278.3" y="73.6" font-size="7.0" text-anchor="end">0</text>
<text x="278.3" y="59.14" font-size="7.0" text-anchor="end">2</text>
<text x="278.3" y="44.68" font-size="7.0" text-anchor="end">4</text>
<text x="278.3" y="30.22" font-size="7.0" text-anchor="end">6</text>
<text x="290.7" y="79.3" font-size="7.0" text-anchor="middle">0.0</text>
<text x="333.4" y="79.3" font-size="7.0" text-anchor="middle">0.2</text>
<text x="376.1" y="79.3" font-size="7.0" text-anchor="middle">0.4</text>
<text x="343.2" y="85.4" font-size="7.2" text-anchor="middle">Mole ratio</text>
<text transform="translate(271.9,45.7) rotate(-90)" font-size="7.35" text-anchor="middle">kcal/mol of injectant</text>
<text x="309" y="27.9" font-size="8.3" letter-spacing="0.15">DMC to ZN<tspan font-size="6.23" baseline-shift="-1.83">3</tspan>A<tspan font-size="6.23" baseline-shift="-1.83">5</tspan>·10H<tspan font-size="6.23" baseline-shift="-1.83">2</tspan>O</text>
<path d="M289.9,25.4 C290.58,26.37 292.65,29.07 294,31.2 C295.35,33.33 296.75,35.82 298,38.2 C299.25,40.58 300.33,43.28 301.5,45.5 C302.67,47.72 303.83,49.87 305,51.5 C306.17,53.13 307.17,54.28 308.5,55.3 C309.83,56.32 311.08,57.03 313,57.6 C314.92,58.17 316.33,58.38 320,58.7 C323.67,59.02 330,59.25 335,59.5 C340,59.75 345,59.92 350,60.2 C355,60.48 360,60.82 365,61.2 C370,61.58 375,62.07 380,62.5 C385,62.93 391.37,63.48 395,63.8 C398.63,64.12 400.67,64.3 401.8,64.4" fill="none" stroke="#111" stroke-width="1.0" stroke-dasharray="1.9 1.4"/>
<g fill="none" stroke="#e0242b" stroke-width="0.95"><circle cx="294.1" cy="57.8" r="1.95"/><circle cx="297.76" cy="38.1" r="1.95"/><circle cx="301.43" cy="46.7" r="1.95"/><circle cx="305.09" cy="52.8" r="1.95"/><circle cx="308.76" cy="55.8" r="1.95"/><circle cx="312.42" cy="57.3" r="1.95"/><circle cx="316.09" cy="58.9" r="1.95"/><circle cx="319.75" cy="58.3" r="1.95"/><circle cx="323.41" cy="59.3" r="1.95"/><circle cx="327.08" cy="59.9" r="1.95"/><circle cx="330.74" cy="59.9" r="1.95"/><circle cx="334.41" cy="59.7" r="1.95"/><circle cx="338.07" cy="59.9" r="1.95"/><circle cx="341.74" cy="58.7" r="1.95"/><circle cx="345.4" cy="59.6" r="1.95"/><circle cx="349.06" cy="60.3" r="1.95"/><circle cx="352.73" cy="59.8" r="1.95"/><circle cx="356.39" cy="60.4" r="1.95"/><circle cx="360.06" cy="60" r="1.95"/><circle cx="363.72" cy="61" r="1.95"/><circle cx="367.39" cy="60.9" r="1.95"/><circle cx="371.05" cy="60.6" r="1.95"/><circle cx="374.71" cy="62.2" r="1.95"/><circle cx="378.38" cy="61.4" r="1.95"/><circle cx="382.04" cy="62.6" r="1.95"/><circle cx="385.71" cy="62.7" r="1.95"/><circle cx="389.37" cy="62.2" r="1.95"/><circle cx="393.04" cy="63.2" r="1.95"/><circle cx="396.7" cy="64.3" r="1.95"/></g>
<defs>
<radialGradient id="gbl" cx="0.4" cy="0.35" r="0.65"><stop offset="0" stop-color="#8fd3e6"/><stop offset="0.6" stop-color="#5ab6cd"/><stop offset="1" stop-color="#3590a8"/></radialGradient>
<radialGradient id="ggr" cx="0.4" cy="0.35" r="0.65"><stop offset="0" stop-color="#e2e2e2"/><stop offset="0.6" stop-color="#c6c6c6"/><stop offset="1" stop-color="#9e9e9e"/></radialGradient>
<radialGradient id="grd" cx="0.4" cy="0.35" r="0.65"><stop offset="0" stop-color="#ff4444"/><stop offset="0.6" stop-color="#ea1620"/><stop offset="1" stop-color="#c00010"/></radialGradient>
<radialGradient id="gyl" cx="0.4" cy="0.35" r="0.65"><stop offset="0" stop-color="#fff070"/><stop offset="0.6" stop-color="#f8d420"/><stop offset="1" stop-color="#d8ae00"/></radialGradient>
</defs>
<text x="440.2" y="11" font-size="14.6">c</text>
<path d="M465,71.5 C467.5,71.48 475,71.45 480,71.4 C485,71.35 490.83,71.28 495,71.2 C499.17,71.12 502,71.17 505,70.9 C508,70.63 510.47,70.22 513,69.6 C515.53,68.98 517.73,68.45 520.2,67.2 C522.67,65.95 525.27,64.47 527.8,62.1 C530.33,59.73 532.87,56.55 535.4,53 C537.93,49.45 540.47,44.6 543,40.8 C545.53,37 548.33,32.85 550.6,30.2 C552.87,27.55 554.45,26.12 556.6,24.9 C558.75,23.68 561.22,22.83 563.5,22.9 C565.78,22.97 568.42,24.08 570.3,25.3 C572.18,26.52 573.43,28.25 574.8,30.2 C576.17,32.15 577.13,33.72 578.5,37 C579.87,40.28 581.67,44.83 583,49.9 C584.33,54.97 585.18,61.58 586.5,67.4 C587.82,73.22 588.95,78.98 590.9,84.8 C592.85,90.62 595.53,97.45 598.2,102.3 C600.87,107.15 604,111.23 606.9,113.9 C609.8,116.57 613.42,117.23 615.6,118.3 C617.78,119.37 617.6,119.52 620,120.3 C622.4,121.08 625.83,122.35 630,123 C634.17,123.65 640,123.97 645,124.2 C650,124.43 654.92,124.37 660,124.4 C665.08,124.43 672.92,124.4 675.5,124.4" fill="none" stroke="#111" stroke-width="0.9"/>
<path d="M535,72.8 H586.5 M552,124.3 H628" stroke="#999" stroke-width="0.6" stroke-dasharray="1.3 1" fill="none"/>
<path d="M571.6,75 V121" stroke="#111" stroke-width="0.7" fill="none"/><path d="M571.6,74.3 L569.9,78 L573.3,78 Z M571.6,121.8 L569.9,118.1 L573.3,118.1 Z" fill="#111"/>
<text x="474.8" y="90" font-size="7.85"><tspan style="font-weight:normal">Δ</tspan>S= 43.4 cal mol<tspan font-size="4.87" baseline-shift="3.14">-1</tspan>K<tspan font-size="4.87" baseline-shift="3.14">-1</tspan></text>
<text x="474.8" y="103.2" font-size="7.85"><tspan style="font-weight:normal">Δ</tspan>H= 3.85 kcal mol<tspan font-size="4.87" baseline-shift="3.14">-1</tspan></text>
<text x="474.8" y="117.3" font-size="7.85"><tspan style="font-weight:normal">Δ</tspan>G= -9.17 kcal mol<tspan font-size="4.87" baseline-shift="3.14">-1</tspan></text>
<g fill="url(#gbl)"><circle cx="493.6" cy="2.6" r="2.5"/><circle cx="503.3" cy="5.7" r="2.5"/><circle cx="490" cy="8" r="2.5"/><circle cx="472.8" cy="12.8" r="2.5"/><circle cx="505.1" cy="19.5" r="2.5"/><circle cx="472.8" cy="21.6" r="2.5"/><circle cx="470.5" cy="35.5" r="2.5"/><circle cx="477.6" cy="36.3" r="2.5"/><circle cx="484.7" cy="42.2" r="2.5"/><circle cx="497.1" cy="40.4" r="2.5"/><circle cx="503.3" cy="41.7" r="2.5"/></g>
<g fill="url(#ggr)"><circle cx="482" cy="5.3" r="2.5"/><circle cx="498" cy="9.8" r="2.5"/><circle cx="479.4" cy="11.5" r="2.5"/><circle cx="506" cy="12.8" r="2.5"/><circle cx="506" cy="27" r="2.5"/><circle cx="472.8" cy="28.7" r="2.5"/><circle cx="503.3" cy="34" r="2.5"/><circle cx="477.1" cy="42.2" r="2.5"/><circle cx="490.9" cy="42.9" r="2.5"/></g>
<circle cx="490.5" cy="25.6" r="11.3" fill="none" stroke="#000" stroke-width="1.95" stroke-dasharray="1.9 2.45"/>
<g fill="url(#grd)"><circle cx="489.1" cy="18.6" r="2.45"/><circle cx="485.6" cy="22.2" r="2.45"/><circle cx="493.6" cy="22.2" r="2.45"/><circle cx="497.1" cy="24.8" r="2.45"/><circle cx="484.7" cy="27" r="2.45"/><circle cx="489.1" cy="26.2" r="2.45"/><circle cx="492.7" cy="28.4" r="2.45"/><circle cx="490" cy="31.9" r="2.45"/></g>
<text x="465.7" y="56.8" font-size="8.05" style="font-weight:normal" stroke="#000" stroke-width="0.28">large clusters</text>
<text x="465.7" y="66.8" font-size="7.4" fill="#2650a8">ZN<tspan dx="0.9" font-size="3.7" baseline-shift="-0.89">3</tspan><tspan dx="0.9">A</tspan><tspan dx="0.9" font-size="3.7" baseline-shift="-0.89">5</tspan><tspan dx="0.9">•10H</tspan><tspan dx="0.9" font-size="3.7" baseline-shift="-0.89">2</tspan><tspan dx="0.9">O</tspan></text>
<g fill="url(#gbl)"><circle cx="638.6" cy="23.3" r="2.5"/><circle cx="622.8" cy="28.4" r="2.5"/><circle cx="652.2" cy="31" r="2.5"/><circle cx="618.8" cy="35.9" r="2.5"/><circle cx="620.4" cy="42.5" r="2.5"/><circle cx="652.6" cy="48" r="2.5"/><circle cx="660.3" cy="51.3" r="2.5"/><circle cx="627.9" cy="54.7" r="2.5"/><circle cx="642.7" cy="54.1" r="2.5"/><circle cx="655.2" cy="61.8" r="2.5"/><circle cx="628.5" cy="69.5" r="2.5"/><circle cx="638.6" cy="80.6" r="2.5"/><circle cx="648.5" cy="79" r="2.5"/></g>
<g fill="url(#ggr)"><circle cx="630.9" cy="22.3" r="2.5"/><circle cx="645" cy="25.9" r="2.5"/><circle cx="656.2" cy="38.1" r="2.5"/><circle cx="635.4" cy="54.7" r="2.5"/><circle cx="650.6" cy="54.7" r="2.5"/><circle cx="623.8" cy="61.2" r="2.5"/><circle cx="630.9" cy="61.8" r="2.5"/><circle cx="657.2" cy="70.5" r="2.5"/><circle cx="631" cy="76.8" r="2.5"/></g>
<path d="M625,33.9 C625.42,33.33 626.38,31.33 627.5,30.5 C628.62,29.67 629.88,29.08 631.7,28.9 C633.52,28.72 636.17,28.98 638.4,29.4 C640.63,29.82 643.28,30.37 645.1,31.4 C646.92,32.43 648.4,34.07 649.3,35.6 C650.2,37.13 650.65,38.93 650.5,40.6 C650.35,42.27 649.58,44.22 648.4,45.6 C647.22,46.98 645.35,48.15 643.4,48.9 C641.45,49.65 638.78,50.1 636.7,50.1 C634.62,50.1 632.57,49.65 630.9,48.9 C629.23,48.15 627.73,47.13 626.7,45.6 C625.67,44.07 624.98,41.65 624.7,39.7 C624.42,37.75 624.53,35.43 625,33.9 C625.47,32.37 627.08,31.07 627.5,30.5" fill="none" stroke="#000" stroke-width="1.95" stroke-dasharray="1.9 2.45"/>
<path d="M635.1,62.3 C635.65,61.68 637.23,59.35 638.4,58.6 C639.57,57.85 640.7,57.6 642.1,57.8 C643.5,58 645.32,58.9 646.8,59.8 C648.28,60.7 649.95,61.95 651,63.2 C652.05,64.45 652.83,65.92 653.1,67.3 C653.37,68.68 653.23,70.23 652.6,71.5 C651.97,72.77 650.83,74.12 649.3,74.9 C647.77,75.68 645.22,76.07 643.4,76.2 C641.58,76.33 639.85,76.35 638.4,75.7 C636.95,75.05 635.48,73.7 634.7,72.3 C633.92,70.9 633.63,68.97 633.7,67.3 C633.77,65.63 634.32,63.75 635.1,62.3 C635.88,60.85 637.85,59.22 638.4,58.6" fill="none" stroke="#000" stroke-width="1.95" stroke-dasharray="1.9 2.45"/>
<g fill="url(#gyl)"><circle cx="638.9" cy="35.6" r="2.5"/><circle cx="642.1" cy="64.8" r="2.5"/></g>
<g fill="url(#grd)"><circle cx="631.7" cy="36.1" r="2.5"/><circle cx="644.8" cy="39.4" r="2.5"/><circle cx="632.2" cy="42.7" r="2.5"/><circle cx="639.2" cy="43.9" r="2.5"/><circle cx="639.7" cy="70.7" r="2.5"/><circle cx="646.4" cy="69.5" r="2.5"/></g>
<text x="617.3" y="95.9" font-size="7.4">Shrunk clusters</text>
<text x="615.9" y="107.7" font-size="7.5" fill="#e8141d">ZN<tspan dx="0.9" font-size="3.75" baseline-shift="-0.9">3</tspan><tspan dx="0.9">A</tspan><tspan dx="0.9" font-size="3.75" baseline-shift="-0.9">5</tspan><tspan dx="0.9">•10H</tspan><tspan dx="0.9" font-size="3.75" baseline-shift="-0.9">2</tspan><tspan dx="0.9">O-EE</tspan></text>
<g fill="url(#gyl)"><circle cx="462" cy="142.5" r="2.5"/></g>
<g fill="url(#ggr)"><circle cx="462.5" cy="162.7" r="2.5"/></g>
<g fill="url(#gbl)"><circle cx="627.7" cy="165" r="2.5"/></g>
<text x="502.7" y="139.4" font-size="6.85" text-anchor="middle">Dimethyl Carbonate</text>
<text x="502.7" y="147.6" font-size="6.85" text-anchor="middle">(DMC)</text>
<text x="500.6" y="162.5" font-size="6.85" text-anchor="middle">Fully dissociated</text>
<text x="502" y="170.4" font-size="6.85" text-anchor="middle">Na<tspan font-size="4.25" baseline-shift="2.74">+</tspan> or Ac<tspan font-size="4.25" baseline-shift="2.74">-</tspan></text>
<circle cx="554.5" cy="153.9" r="11.2" fill="none" stroke="#000" stroke-width="1.95" stroke-dasharray="1.9 2.45"/>
<g fill="url(#grd)"><circle cx="554.2" cy="147.1" r="2.45"/><circle cx="550.3" cy="149.7" r="2.45"/><circle cx="558.6" cy="150.3" r="2.45"/><circle cx="562.1" cy="152.7" r="2.45"/><circle cx="549.3" cy="155.2" r="2.45"/><circle cx="553.8" cy="154.2" r="2.45"/><circle cx="558.6" cy="157.3" r="2.45"/><circle cx="555" cy="160" r="2.45"/></g>
<text x="587.6" y="152.3" font-size="6.9" text-anchor="middle">Large</text>
<text x="588.3" y="159.9" font-size="6.9" text-anchor="middle">Ion cluster</text>
<path d="M617.8,144.5 C618.1,143.33 618.5,139.35 619.6,137.5 C620.7,135.65 622.67,134.12 624.4,133.4 C626.13,132.68 628.27,132.67 630,133.2 C631.73,133.73 633.43,135.1 634.8,136.6 C636.17,138.1 637.77,140.27 638.2,142.2 C638.63,144.13 638.52,146.7 637.4,148.2 C636.28,149.7 633.65,150.67 631.5,151.2 C629.35,151.73 626.55,151.73 624.5,151.4 C622.45,151.07 620.32,150.35 619.2,149.2 C618.08,148.05 617.73,146.45 617.8,144.5 C617.87,142.55 619.3,138.67 619.6,137.5" fill="none" stroke="#000" stroke-width="1.95" stroke-dasharray="1.9 2.45"/>
<g fill="url(#gyl)"><circle cx="626.7" cy="139.4" r="2.5"/></g>
<g fill="url(#grd)"><circle cx="624.2" cy="145.7" r="2.5"/><circle cx="630.7" cy="144.3" r="2.5"/></g>
<text x="643" y="141.9" font-size="6.9">Disrupted</text>
<text x="643" y="149.9" font-size="6.9">Ion cluster</text>
<text x="648.2" y="167.5" font-size="6.9">Water</text>
<text x="2.2" y="220" font-size="14.2">d</text>
<text transform="translate(27.3,298.1) rotate(-90)" font-size="10.45" text-anchor="middle">Intensity (arb. units)</text>
<path d="M34.6,227.9 V369.2 H137.8 M172.4,369.2 H275.7 M309.4,369.2 H412.4 M34.6,369.2v2.6 M47.5,369.2v1.6 M60.4,369.2v2.6 M73.3,369.2v1.6 M86.2,369.2v2.6 M99.1,369.2v1.6 M112,369.2v2.6 M124.9,369.2v1.6 M137.8,369.2v2.6 M172.4,369.2v2.6 M185.31,369.2v1.6 M198.22,369.2v2.6 M211.13,369.2v1.6 M224.04,369.2v2.6 M236.95,369.2v1.6 M249.86,369.2v2.6 M262.77,369.2v1.6 M275.68,369.2v2.6 M309.4,369.2v2.6 M322.27,369.2v1.6 M335.15,369.2v2.6 M348.02,369.2v1.6 M360.9,369.2v2.6 M373.77,369.2v1.6 M386.65,369.2v2.6 M399.52,369.2v1.6 M412.4,369.2v2.6" stroke="#111" stroke-width="1.05" fill="none"/>
<text x="34.6" y="380.8" font-size="8.9" text-anchor="middle">300</text>
<text x="60.4" y="380.8" font-size="8.9" text-anchor="middle">350</text>
<text x="86.2" y="380.8" font-size="8.9" text-anchor="middle">400</text>
<text x="112" y="380.8" font-size="8.9" text-anchor="middle">450</text>
<text x="137.8" y="380.8" font-size="8.9" text-anchor="middle">500</text>
<text x="172.4" y="380.8" font-size="8.9" text-anchor="middle">970</text>
<text x="198.22" y="380.8" font-size="8.9" text-anchor="middle">950</text>
<text x="224.04" y="380.8" font-size="8.9" text-anchor="middle">930</text>
<text x="249.86" y="380.8" font-size="8.9" text-anchor="middle">910</text>
<text x="275.68" y="380.8" font-size="8.9" text-anchor="middle">890</text>
<text x="309.4" y="380.8" font-size="8.9" text-anchor="middle">3000</text>
<text x="335.15" y="380.8" font-size="8.9" text-anchor="middle">3250</text>
<text x="360.9" y="380.8" font-size="8.9" text-anchor="middle">3500</text>
<text x="386.65" y="380.8" font-size="8.9" text-anchor="middle">3750</text>
<text x="412.4" y="380.8" font-size="8.9" text-anchor="middle">4000</text>
<text x="179.9" y="392.7" font-size="10.5">Raman shift (cm<tspan font-size="6.51" baseline-shift="4.2">-1</tspan>)</text>
<path d="M81.2,226.6 V369.2 M201.4,227.9 V369.2 M214.9,227.9 V369.2 M228.1,227.9 V369.2 M334.7,232.2 V369.2 M350.7,232.2 V369.2" stroke="#111" stroke-width="1" stroke-dasharray="2.6 1.6" fill="none"/>
<text x="61.6" y="224.5" font-size="9.0">Zn<tspan font-size="5.58" baseline-shift="3.6">2+</tspan>- H<tspan font-size="5.85" baseline-shift="-1.8">2</tspan>O</text>
<text x="189.8" y="223.8" font-size="8.9">BIP</text>
<text x="207.6" y="223.8" font-size="8.9">MIP</text>
<text x="227" y="223.8" font-size="8.7">SSIP</text>
<text x="299.6" y="222.4" font-size="8.5">Strong</text>
<text x="299.6" y="232.8" font-size="8.5">H-bond</text>
<text x="358" y="222.4" font-size="8.5">Weak</text>
<text x="356.1" y="232.8" font-size="8.5">H-bond</text>
<text x="96" y="253.2" font-size="8.6" fill="#7a70b4">ZN<tspan font-size="5.59" baseline-shift="-1.72">10</tspan>A<tspan font-size="5.59" baseline-shift="-1.72">12</tspan>·20H<tspan font-size="5.59" baseline-shift="-1.72">2</tspan>O</text>
<text x="92.4" y="277.1" font-size="8.6" fill="#dc1f26">ZN<tspan font-size="5.59" baseline-shift="-1.72">3</tspan>A<tspan font-size="5.59" baseline-shift="-1.72">5</tspan>·10H<tspan font-size="5.59" baseline-shift="-1.72">2</tspan>O-EE</text>
<text x="98.3" y="301.4" font-size="8.6" fill="#2b7cc0">ZN<tspan font-size="5.59" baseline-shift="-1.72">3</tspan>A<tspan font-size="5.59" baseline-shift="-1.72">5</tspan>·10H<tspan font-size="5.59" baseline-shift="-1.72">2</tspan>O</text>
<text x="103.6" y="324.3" font-size="8.6" fill="#f8a449">1Zn1Na</text>
<text x="97" y="346.4" font-size="8.6" fill="#6e6e6e">1M Zn(AC)<tspan font-size="5.59" baseline-shift="-1.72">2</tspan></text>
<path d="M35,261.6 C39.17,261.65 51.67,261.87 60,261.9 C68.33,261.93 76.67,261.9 85,261.8 C93.33,261.7 101.2,261.48 110,261.3 C118.8,261.12 133.17,260.8 137.8,260.7" fill="none" stroke="#7a70b4" stroke-width="1.55" stroke-linecap="round"/>
<path d="M35,286.4 C39.17,286.43 51.67,286.62 60,286.6 C68.33,286.58 76.67,286.43 85,286.3 C93.33,286.17 101.2,286 110,285.8 C118.8,285.6 133.17,285.22 137.8,285.1" fill="none" stroke="#dc1f26" stroke-width="1.55" stroke-linecap="round"/>
<path d="M35,308.3 C39.17,308.35 51.67,308.58 60,308.6 C68.33,308.62 76.67,308.53 85,308.4 C93.33,308.27 101.2,308.03 110,307.8 C118.8,307.57 133.17,307.13 137.8,307" fill="none" stroke="#2b7cc0" stroke-width="1.55" stroke-linecap="round"/>
<path d="M35,331.9 C39.17,331.92 51.67,332.03 60,332 C68.33,331.97 76.67,331.85 85,331.7 C93.33,331.55 101.2,331.32 110,331.1 C118.8,330.88 133.17,330.52 137.8,330.4" fill="none" stroke="#f8a449" stroke-width="1.55" stroke-linecap="round"/>
<path d="M35,352.2 C37.5,352.37 45,352.97 50,353.2 C55,353.43 59.17,353.55 65,353.6 C70.83,353.65 77.5,353.62 85,353.5 C92.5,353.38 101.2,353.15 110,352.9 C118.8,352.65 133.17,352.15 137.8,352" fill="none" stroke="#808080" stroke-width="1.55" stroke-linecap="round"/>
<path d="M173,263.5 C175,263.47 180.72,263.5 185,263.3 C189.28,263.1 195.2,263.05 198.7,262.3 C202.2,261.55 203.53,260.52 206,258.8 C208.47,257.08 211.08,254.8 213.5,252 C215.92,249.2 218.05,244.95 220.5,242 C222.95,239.05 226.12,234.97 228.2,234.3 C230.28,233.63 231.32,236.18 233,238 C234.68,239.82 236.23,242.98 238.3,245.2 C240.37,247.42 243.37,250.12 245.4,251.3 C247.43,252.48 248.47,251.88 250.5,252.3 C252.53,252.72 255.42,252.78 257.6,253.8 C259.78,254.82 261.58,256.97 263.6,258.4 C265.62,259.83 267.67,261.58 269.7,262.4 C271.73,263.22 274.78,263.15 275.8,263.3" fill="none" stroke="#7a70b4" stroke-width="1.55" stroke-linecap="round"/>
<path d="M173,286.6 C175,286.52 181.92,286.33 185,286.1 C188.08,285.87 188.83,286.28 191.5,285.2 C194.17,284.12 197.92,282.47 201,279.6 C204.08,276.73 207.5,271.07 210,268 C212.5,264.93 214.2,262.6 216,261.2 C217.8,259.8 219.13,259.55 220.8,259.6 C222.47,259.65 223.27,259.77 226,261.5 C228.73,263.23 233.87,267.42 237.2,270 C240.53,272.58 243.2,275 246,277 C248.8,279 250.83,280.47 254,282 C257.17,283.53 261.35,285.15 265,286.2 C268.65,287.25 274.08,287.95 275.9,288.3" fill="none" stroke="#dc1f26" stroke-width="1.55" stroke-linecap="round"/>
<path d="M173,309.7 C175,309.33 181.67,308.62 185,307.5 C188.33,306.38 190.27,305 193,303 C195.73,301 198.9,298.5 201.4,295.5 C203.9,292.5 206.15,287.92 208,285 C209.85,282.08 211.13,279.58 212.5,278 C213.87,276.42 214.95,275.58 216.2,275.5 C217.45,275.42 218.53,275.92 220,277.5 C221.47,279.08 223.53,282.75 225,285 C226.47,287.25 227.13,289.33 228.8,291 C230.47,292.67 232.73,293.78 235,295 C237.27,296.22 239.9,296.97 242.4,298.3 C244.9,299.63 247.4,301.3 250,303 C252.6,304.7 255.33,307.25 258,308.5 C260.67,309.75 263.02,310.08 266,310.5 C268.98,310.92 274.25,310.92 275.9,311" fill="none" stroke="#2b7cc0" stroke-width="1.55" stroke-linecap="round"/>
<path d="M173,332.4 C174.17,331.67 177.5,330.4 180,328 C182.5,325.6 185.5,321.17 188,318 C190.5,314.83 192.77,311.22 195,309 C197.23,306.78 199.73,306.12 201.4,304.7 C203.07,303.28 203.67,301.38 205,300.5 C206.33,299.62 207.9,299.32 209.4,299.4 C210.9,299.48 212.23,299.57 214,301 C215.77,302.43 217.73,305.3 220,308 C222.27,310.7 225.1,314.7 227.6,317.2 C230.1,319.7 232.6,321.2 235,323 C237.4,324.8 239.43,326.5 242,328 C244.57,329.5 247.4,330.92 250.4,332 C253.4,333.08 255.75,333.82 260,334.5 C264.25,335.18 273.25,335.83 275.9,336.1" fill="none" stroke="#f8a449" stroke-width="1.55" stroke-linecap="round"/>
<path d="M172.9,355.5 C174.08,353.25 177.48,346.42 180,342 C182.52,337.58 185.5,332.42 188,329 C190.5,325.58 192.77,323.08 195,321.5 C197.23,319.92 199.4,319.42 201.4,319.5 C203.4,319.58 204.73,320.08 207,322 C209.27,323.92 212.52,328.2 215,331 C217.48,333.8 219.73,336.25 221.9,338.8 C224.07,341.35 225.65,344.18 228,346.3 C230.35,348.42 233.5,350.05 236,351.5 C238.5,352.95 240.4,353.85 243,355 C245.6,356.15 248.43,357.35 251.6,358.4 C254.77,359.45 257.93,360.5 262,361.3 C266.07,362.1 273.67,362.88 276,363.2" fill="none" stroke="#808080" stroke-width="1.55" stroke-linecap="round"/>
<path d="M309.7,255 C310.25,256.67 311.67,262.5 313,265 C314.33,267.5 316.03,269.42 317.7,270 C319.37,270.58 321.28,269.83 323,268.5 C324.72,267.17 326.28,264.17 328,262 C329.72,259.83 331.47,257.33 333.3,255.5 C335.13,253.67 337.2,252.4 339,251 C340.8,249.6 342.6,248.43 344.1,247.1 C345.6,245.77 346.92,244.08 348,243 C349.08,241.92 349.6,240.77 350.6,240.6 C351.6,240.43 352.77,240.6 354,242 C355.23,243.4 356.63,246.35 358,249 C359.37,251.65 360.7,254.4 362.2,257.9 C363.7,261.4 365.4,265.98 367,270 C368.6,274.02 370.3,278.67 371.8,282 C373.3,285.33 374.4,287.92 376,290 C377.6,292.08 379.07,293.5 381.4,294.5 C383.73,295.5 386.9,295.62 390,296 C393.1,296.38 396.33,296.5 400,296.8 C403.67,297.1 410,297.63 412,297.8" fill="none" stroke="#7a70b4" stroke-width="1.55" stroke-linecap="round"/>
<path d="M309.7,288 C310.08,289 311.07,292.4 312,294 C312.93,295.6 313.97,297.1 315.3,297.6 C316.63,298.1 318.22,297.93 320,297 C321.78,296.07 323.58,294.3 326,292 C328.42,289.7 332,285.62 334.5,283.2 C337,280.78 339,279.52 341,277.5 C343,275.48 345.17,273.35 346.5,271.1 C347.83,268.85 348.2,266 349,264 C349.8,262 350.3,259.85 351.3,259.1 C352.3,258.35 353.8,259.1 355,259.5 C356.2,259.9 357.33,259.75 358.5,261.5 C359.67,263.25 360.58,266.18 362,270 C363.42,273.82 365.37,279.73 367,284.4 C368.63,289.07 370.3,294.57 371.8,298 C373.3,301.43 374.4,302.78 376,305 C377.6,307.22 379.3,309.05 381.4,311.3 C383.5,313.55 385.83,317.05 388.6,318.5 C391.37,319.95 394.1,319.65 398,320 C401.9,320.35 409.67,320.5 412,320.6" fill="none" stroke="#dc1f26" stroke-width="1.55" stroke-linecap="round"/>
<path d="M309.2,305.3 C309.67,306.42 310.78,310.28 312,312 C313.22,313.72 315,315.27 316.5,315.6 C318,315.93 319.25,315.77 321,314 C322.75,312.23 324.75,308.07 327,305 C329.25,301.93 332.33,297.93 334.5,295.6 C336.67,293.27 338.4,292.4 340,291 C341.6,289.6 342.77,288.7 344.1,287.2 C345.43,285.7 346.8,283.55 348,282 C349.2,280.45 350.13,278.4 351.3,277.9 C352.47,277.4 353.88,278.15 355,279 C356.12,279.85 356.8,280.83 358,283 C359.2,285.17 360.7,288.67 362.2,292 C363.7,295.33 365.2,298.98 367,303 C368.8,307.02 370.83,311.93 373,316.1 C375.17,320.27 377.8,324.6 380,328 C382.2,331.4 383.7,334.5 386.2,336.5 C388.7,338.5 390.7,339.2 395,340 C399.3,340.8 409.17,341.08 412,341.3" fill="none" stroke="#2b7cc0" stroke-width="1.55" stroke-linecap="round"/>
<path d="M309.2,332.4 C309.5,332.6 310.2,333.12 311,333.6 C311.8,334.08 312.83,335.57 314,335.3 C315.17,335.03 316.17,334.22 318,332 C319.83,329.78 322.25,325.45 325,322 C327.75,318.55 332,313.55 334.5,311.3 C337,309.05 338.4,309.3 340,308.5 C341.6,307.7 342.77,307.42 344.1,306.5 C345.43,305.58 346.6,303.88 348,303 C349.4,302.12 351,301.2 352.5,301.2 C354,301.2 355.75,301.53 357,303 C358.25,304.47 358.73,307.02 360,310 C361.27,312.98 363.1,317.57 364.6,320.9 C366.1,324.23 367.4,326.8 369,330 C370.6,333.2 372.7,337.43 374.2,340.1 C375.7,342.77 376.6,344.4 378,346 C379.4,347.6 380.27,348.87 382.6,349.7 C384.93,350.53 387.1,350.67 392,351 C396.9,351.33 408.67,351.58 412,351.7" fill="none" stroke="#f8a449" stroke-width="1.55" stroke-linecap="round"/>
<path d="M309.2,354.6 C310,354.4 312.2,354.33 314,353.4 C315.8,352.47 317.83,351.23 320,349 C322.17,346.77 324.58,342.77 327,340 C329.42,337.23 332.33,333.93 334.5,332.4 C336.67,330.87 338.4,331.32 340,330.8 C341.6,330.28 342.77,329.85 344.1,329.3 C345.43,328.75 346.8,328.02 348,327.5 C349.2,326.98 349.97,325.78 351.3,326.2 C352.63,326.62 354.18,327.68 356,330 C357.82,332.32 360.2,337.1 362.2,340.1 C364.2,343.1 366.2,345.58 368,348 C369.8,350.42 371.5,352.68 373,354.6 C374.5,356.52 375.6,358.1 377,359.5 C378.4,360.9 379.23,362.2 381.4,363 C383.57,363.8 384.9,364.02 390,364.3 C395.1,364.58 408.33,364.63 412,364.7" fill="none" stroke="#808080" stroke-width="1.55" stroke-linecap="round"/>
<text x="440.1" y="219.7" font-size="14.8">e</text>
<rect x="474.6" y="227.6" width="175.9" height="141.3" fill="none" stroke="#222" stroke-width="1.05"/>
<path d="M474.6,368.9v2.6 M492.2,368.9v1.6 M509.8,368.9v2.6 M527.4,368.9v1.6 M545,368.9v2.6 M562.6,368.9v1.6 M580.2,368.9v2.6 M597.8,368.9v1.6 M615.4,368.9v2.6 M633,368.9v1.6 M650.6,368.9v2.6" stroke="#222" stroke-width="1" fill="none"/>
<text x="474.6" y="381.4" font-size="8.9" text-anchor="middle">1350</text>
<text x="509.8" y="381.4" font-size="8.9" text-anchor="middle">1400</text>
<text x="545" y="381.4" font-size="8.9" text-anchor="middle">1450</text>
<text x="580.2" y="381.4" font-size="8.9" text-anchor="middle">1500</text>
<text x="615.4" y="381.4" font-size="8.9" text-anchor="middle">1550</text>
<text x="650.6" y="381.4" font-size="8.9" text-anchor="middle">1600</text>
<text x="512.7" y="392.4" font-size="9.8">Wavenumber (cm<tspan font-size="6.08" baseline-shift="3.92">-1</tspan>)</text>
<text transform="translate(464.3,289.2) rotate(-90)" font-size="9.2" text-anchor="middle">Intensity (arb. units)</text>
<path d="M544.5,213.6 V345 M605.6,213.6 V344" stroke="#888" stroke-width="0.95" stroke-dasharray="3 2" fill="none"/>
<path d="M546,223.3 H604" stroke="#999" stroke-width="0.85" stroke-dasharray="3 2.1" fill="none"/>
<path d="M549,221.3 L546,223.3 L549,225.3 M601,221.3 L604,223.3 L601,225.3" stroke="#999" stroke-width="0.8" fill="none"/>
<text x="576.6" y="218.6" font-size="8.4" text-anchor="middle"><tspan style="font-weight:normal">Δ</tspan>V</text>
<text x="468.4" y="223.3" font-size="8.6">V<tspan font-size="5.59" baseline-shift="-1.72">s</tspan> (C=O) 1450 cm<tspan font-size="5.33" baseline-shift="3.44">-1</tspan></text>
<text x="607.8" y="223.3" font-size="8.6">V<tspan font-size="5.59" baseline-shift="-1.72">as</tspan> (C=O) 1536 cm<tspan font-size="5.33" baseline-shift="3.44">-1</tspan></text>
<path d="M539,233 H505" stroke="#8a8a8a" stroke-width="1.3" fill="none"/><path d="M501.5,233 L507,230.6 L507,235.4 Z" fill="#8a8a8a"/>
<path d="M608.4,233 H628" stroke="#8a8a8a" stroke-width="1.3" fill="none"/><path d="M631.5,233 L626,230.6 L626,235.4 Z" fill="#8a8a8a"/>
<path d="M475,259 C475.6,259.13 477.07,260.22 478.6,259.8 C480.13,259.38 482.42,258.08 484.2,256.5 C485.98,254.92 487.6,252.18 489.3,250.3 C491,248.42 492.27,246.52 494.4,245.2 C496.53,243.88 499.53,242.48 502.1,242.4 C504.67,242.32 507.33,243.55 509.8,244.7 C512.27,245.85 514.7,247.98 516.9,249.3 C519.1,250.62 520.78,251.78 523,252.6 C525.22,253.42 526.7,253.73 530.2,254.2 C533.7,254.67 540.7,255.02 544,255.4 C547.3,255.78 547.33,255.9 550,256.5 C552.67,257.1 556.67,258.12 560,259 C563.33,259.88 567.5,261.23 570,261.8 C572.5,262.37 573.33,262.35 575,262.4 C576.67,262.45 577.5,262.42 580,262.1 C582.5,261.78 586.67,261.35 590,260.5 C593.33,259.65 597.42,258.43 600,257 C602.58,255.57 603.83,253.7 605.5,251.9 C607.17,250.1 608.58,247.47 610,246.2 C611.42,244.93 612.13,245.27 614,244.3 C615.87,243.33 618.22,241.17 621.2,240.4 C624.18,239.63 628.33,239.47 631.9,239.7 C635.47,239.93 639.53,241 642.6,241.8 C645.67,242.6 649.02,244.05 650.3,244.5" fill="none" stroke="#7a70b4" stroke-width="1.4" stroke-linecap="round"/>
<path d="M475,283.3 C475.77,283.72 477.72,285.8 479.6,285.8 C481.48,285.8 484.17,284.65 486.3,283.3 C488.43,281.95 490.37,279.92 492.4,277.7 C494.43,275.48 496.2,272.32 498.5,270 C500.8,267.68 503.82,264.52 506.2,263.8 C508.58,263.08 510.5,264.62 512.8,265.7 C515.1,266.78 517.95,268.9 520,270.3 C522.05,271.7 522.88,273.05 525.1,274.1 C527.32,275.15 530.15,276.07 533.3,276.6 C536.45,277.13 540.52,276.87 544,277.3 C547.48,277.73 550.8,278.28 554.2,279.2 C557.6,280.12 560.98,281.95 564.4,282.8 C567.82,283.65 571.28,284.3 574.7,284.3 C578.12,284.3 581.5,283.82 584.9,282.8 C588.3,281.78 592.38,279.65 595.1,278.2 C597.82,276.75 599.42,275.38 601.2,274.1 C602.98,272.82 603.67,272.37 605.8,270.5 C607.93,268.63 611.27,264.97 614,262.9 C616.73,260.83 619.22,259.07 622.2,258.1 C625.18,257.13 628.67,256.93 631.9,257.1 C635.13,257.27 638.53,258.13 641.6,259.1 C644.67,260.07 648.85,262.27 650.3,262.9" fill="none" stroke="#dc1f26" stroke-width="1.4" stroke-linecap="round"/>
<path d="M475,304.2 C475.85,304.67 477.72,307.25 480.1,307 C482.48,306.75 486.4,304.95 489.3,302.7 C492.2,300.45 495.12,296.23 497.5,293.5 C499.88,290.77 501.63,287.83 503.6,286.3 C505.57,284.77 507.25,284.2 509.3,284.3 C511.35,284.4 513.62,285.45 515.9,286.9 C518.18,288.35 520.45,291.22 523,293 C525.55,294.78 527.7,296.38 531.2,297.6 C534.7,298.82 540.17,299.62 544,300.3 C547.83,300.98 550.8,301.13 554.2,301.7 C557.6,302.27 560.98,303.2 564.4,303.7 C567.82,304.2 571.28,304.87 574.7,304.7 C578.12,304.53 581.5,303.88 584.9,302.7 C588.3,301.52 592.03,299.47 595.1,297.6 C598.17,295.73 600.92,293.55 603.3,291.5 C605.68,289.45 607.62,286.65 609.4,285.3 C611.18,283.95 611.87,284.32 614,283.4 C616.13,282.48 619.82,280.48 622.2,279.8 C624.58,279.12 625.42,279.05 628.3,279.3 C631.18,279.55 635.83,280.37 639.5,281.3 C643.17,282.23 648.5,284.3 650.3,284.9" fill="none" stroke="#2b7cc0" stroke-width="1.4" stroke-linecap="round"/>
<path d="M475,323.4 C476.53,323.23 480.97,323.08 484.2,322.4 C487.43,321.72 491.33,320.58 494.4,319.3 C497.47,318.02 500.03,316.48 502.6,314.7 C505.17,312.92 507.42,309.97 509.8,308.6 C512.18,307.23 514.35,306.42 516.9,306.5 C519.45,306.58 522.37,307.38 525.1,309.1 C527.83,310.82 530.15,314.77 533.3,316.8 C536.45,318.83 540.52,320.28 544,321.3 C547.48,322.32 550.8,322.47 554.2,322.9 C557.6,323.33 560.98,323.73 564.4,323.9 C567.82,324.07 571.28,324.23 574.7,323.9 C578.12,323.57 581.5,322.92 584.9,321.9 C588.3,320.88 591.7,319.52 595.1,317.8 C598.5,316.08 602.15,313.7 605.3,311.6 C608.45,309.5 611.7,307.03 614,305.2 C616.3,303.37 617.23,301.62 619.1,300.6 C620.97,299.58 622.98,298.93 625.2,299.1 C627.42,299.27 630.02,300.42 632.4,301.6 C634.78,302.78 637.28,305.17 639.5,306.2 C641.72,307.23 643.9,307.7 645.7,307.8 C647.5,307.9 649.53,306.97 650.3,306.8" fill="none" stroke="#f8a449" stroke-width="1.4" stroke-linecap="round"/>
<path d="M475,343.3 C476.2,343.47 478.97,344.63 482.2,344.3 C485.43,343.97 490.65,342.92 494.4,341.3 C498.15,339.68 501.8,336.4 504.7,334.6 C507.6,332.8 509.6,331.38 511.8,330.5 C514,329.62 515.68,329.12 517.9,329.3 C520.12,329.48 522.2,330.28 525.1,331.6 C528,332.92 532.15,335.8 535.3,337.2 C538.45,338.6 540.85,339.28 544,340 C547.15,340.72 550.8,341.17 554.2,341.5 C557.6,341.83 560.98,342.08 564.4,342 C567.82,341.92 571.28,341.8 574.7,341 C578.12,340.2 581.5,338.68 584.9,337.2 C588.3,335.72 591.7,333.8 595.1,332.1 C598.5,330.4 602.92,328.37 605.3,327 C607.68,325.63 607.95,324.53 609.4,323.9 C610.85,323.27 612.55,323.42 614,323.2 C615.45,322.98 616.4,322.45 618.1,322.6 C619.8,322.75 621.48,323.28 624.2,324.1 C626.92,324.92 631.33,326.65 634.4,327.5 C637.47,328.35 639.95,328.73 642.6,329.2 C645.25,329.67 649.02,330.12 650.3,330.3" fill="none" stroke="#808080" stroke-width="1.4" stroke-linecap="round"/>
<path d="M475,353.2 C476.03,353.27 478.82,353.82 481.2,353.6 C483.58,353.38 486.25,352.75 489.3,351.9 C492.35,351.05 496.08,349.23 499.5,348.5 C502.92,347.77 506.72,347.7 509.8,347.5 C512.88,347.3 515.45,347.25 518,347.3 C520.55,347.35 522.55,347.88 525.1,347.8 C527.65,347.72 530.15,347.23 533.3,346.8 C536.45,346.37 541.2,345.2 544,345.2 C546.8,345.2 547.88,345.68 550.1,346.8 C552.32,347.92 554.57,350.37 557.3,351.9 C560.03,353.43 563.6,355.5 566.5,356 C569.4,356.5 571.63,355.85 574.7,354.9 C577.77,353.95 581.5,351.83 584.9,350.3 C588.3,348.77 591.7,346.72 595.1,345.7 C598.5,344.68 602.15,343.85 605.3,344.2 C608.45,344.55 611.02,346.35 614,347.8 C616.98,349.25 619.8,351.53 623.2,352.9 C626.6,354.27 629.88,354.98 634.4,356 C638.92,357.02 647.65,358.5 650.3,359" fill="none" stroke="#111" stroke-width="1.5" stroke-linecap="round"/>
<text x="549" y="245.2" font-size="7.3" fill="#7a70b4">ZN<tspan font-size="4.75" baseline-shift="-1.46">10</tspan>A<tspan font-size="4.75" baseline-shift="-1.46">12</tspan>·20H<tspan font-size="4.75" baseline-shift="-1.46">2</tspan>O</text>
<text x="546.3" y="271.6" font-size="7.3" fill="#dc1f26">ZN<tspan font-size="4.75" baseline-shift="-1.46">3</tspan>A<tspan font-size="4.75" baseline-shift="-1.46">5</tspan>·10H<tspan font-size="4.75" baseline-shift="-1.46">2</tspan>O-EE</text>
<text x="549.6" y="295.0" font-size="7.3" fill="#2b7cc0">ZN<tspan font-size="4.75" baseline-shift="-1.46">3</tspan>A<tspan font-size="4.75" baseline-shift="-1.46">5</tspan>·10H<tspan font-size="4.75" baseline-shift="-1.46">2</tspan>O</text>
<text x="557.8" y="317.5" font-size="7.3" fill="#f8a449">1Zn1Na</text>
<text x="551" y="333.8" font-size="7.3" fill="#6e6e6e">1M Zn(AC)<tspan font-size="4.75" baseline-shift="-1.46">2</tspan></text>
<text x="541" y="364.6" font-size="7.95" fill="#000">Saturated Zn(AC)<tspan font-size="5.17" baseline-shift="-1.59">2</tspan></text>
</svg>
</body></html>
